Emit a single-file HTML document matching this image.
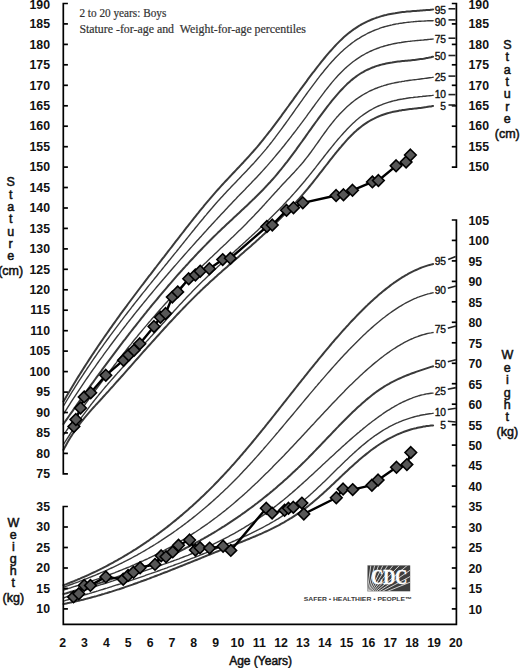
<!DOCTYPE html>
<html><head><meta charset="utf-8"><title>Growth chart</title>
<style>html,body{margin:0;padding:0;background:#fff;width:520px;height:668px;overflow:hidden}svg{display:block}</style>
</head><body>
<svg width="520" height="668" viewBox="0 0 520 668">
<rect width="520" height="668" fill="#fff"/>
<g fill="none" stroke="#3a3a3a" stroke-linejoin="round" stroke-linecap="round">
<path d="M63.5,401.4 L65.0,398.9 L66.5,396.3 L68.0,393.7 L69.5,391.2 L71.0,388.7 L72.5,386.2 L74.0,383.7 L75.5,381.3 L77.0,378.8 L78.5,376.4 L80.0,374.0 L81.5,371.6 L83.0,369.2 L84.5,366.9 L86.0,364.5 L87.5,362.2 L89.0,359.9 L90.5,357.6 L92.0,355.3 L93.5,353.1 L95.0,350.8 L96.5,348.6 L98.0,346.3 L99.5,344.1 L101.0,341.9 L102.5,339.7 L104.0,337.5 L105.5,335.4 L107.0,333.2 L108.5,331.1 L110.0,328.9 L111.5,326.8 L113.0,324.7 L114.5,322.6 L116.0,320.5 L117.5,318.4 L119.0,316.3 L120.5,314.2 L122.0,312.2 L123.5,310.1 L125.0,308.1 L126.5,306.1 L128.0,304.0 L129.5,302.0 L131.0,300.0 L132.5,298.0 L134.0,296.0 L135.5,294.0 L137.0,292.0 L138.5,290.0 L140.0,288.0 L141.5,286.0 L143.0,284.1 L144.5,282.1 L146.0,280.1 L147.5,278.2 L149.0,276.2 L150.5,274.3 L152.0,272.3 L153.5,270.4 L155.0,268.4 L156.5,266.5 L158.0,264.5 L159.5,262.6 L161.0,260.7 L162.5,258.7 L164.0,256.8 L165.5,254.8 L167.0,252.9 L168.5,250.9 L170.0,249.0 L171.5,247.1 L173.0,245.1 L174.5,243.2 L176.0,241.2 L177.5,239.3 L179.0,237.4 L180.5,235.4 L182.0,233.5 L183.5,231.6 L185.0,229.6 L186.5,227.7 L188.0,225.8 L189.5,223.9 L191.0,222.0 L192.5,220.1 L194.0,218.2 L195.5,216.3 L197.0,214.4 L198.5,212.6 L200.0,210.7 L201.5,208.9 L203.0,207.1 L204.5,205.2 L206.0,203.4 L207.5,201.6 L209.0,199.9 L210.5,198.1 L212.0,196.3 L213.5,194.6 L215.0,192.9 L216.5,191.2 L218.0,189.5 L219.5,187.8 L221.0,186.1 L222.5,184.5 L224.0,182.9 L225.5,181.3 L227.0,179.7 L228.5,178.1 L230.0,176.5 L231.5,174.9 L233.0,173.3 L234.5,171.7 L236.0,170.1 L237.5,168.5 L239.0,167.0 L240.5,165.4 L242.0,163.8 L243.5,162.2 L245.0,160.5 L246.5,158.9 L248.0,157.3 L249.5,155.6 L251.0,153.9 L252.5,152.3 L254.0,150.5 L255.5,148.8 L257.0,147.1 L258.5,145.3 L260.0,143.5 L261.5,141.7 L263.0,139.8 L264.5,137.9 L266.0,136.0 L267.5,134.1 L269.0,132.2 L270.5,130.3 L272.0,128.3 L273.5,126.3 L275.0,124.3 L276.5,122.3 L278.0,120.3 L279.5,118.3 L281.0,116.3 L282.5,114.2 L284.0,112.2 L285.5,110.1 L287.0,108.0 L288.5,106.0 L290.0,103.9 L291.5,101.8 L293.0,99.8 L294.5,97.7 L296.0,95.6 L297.5,93.5 L299.0,91.5 L300.5,89.4 L302.0,87.4 L303.5,85.3 L305.0,83.3 L306.5,81.3 L308.0,79.2 L309.5,77.2 L311.0,75.2 L312.5,73.2 L314.0,71.3 L315.5,69.3 L317.0,67.4 L318.5,65.5 L320.0,63.6 L321.5,61.7 L323.0,59.8 L324.5,58.0 L326.0,56.2 L327.5,54.4 L329.0,52.7 L330.5,51.0 L332.0,49.3 L333.5,47.6 L335.0,46.0 L336.5,44.4 L338.0,42.9 L339.5,41.4 L341.0,39.9 L342.5,38.5 L344.0,37.1 L345.5,35.8 L347.0,34.5 L348.5,33.3 L350.0,32.1 L351.5,31.0 L353.0,29.9 L354.5,28.8 L356.0,27.8 L357.5,26.8 L359.0,25.9 L360.5,25.0 L362.0,24.2 L363.5,23.4 L365.0,22.6 L366.5,21.8 L368.0,21.1 L369.5,20.5 L371.0,19.8 L372.5,19.2 L374.0,18.6 L375.5,18.1 L377.0,17.5 L378.5,17.1 L380.0,16.6 L381.5,16.1 L383.0,15.7 L384.5,15.3 L386.0,15.0 L387.5,14.6 L389.0,14.3 L390.5,14.0 L392.0,13.7 L393.5,13.4 L395.0,13.2 L396.5,12.9 L398.0,12.7 L399.5,12.5 L401.0,12.3 L402.5,12.1 L404.0,11.9 L405.5,11.8 L407.0,11.6 L408.5,11.5 L410.0,11.4 L411.5,11.2 L413.0,11.1 L414.5,11.0 L416.0,10.9 L417.5,10.8 L419.0,10.7 L420.5,10.5 L422.0,10.4 L423.5,10.3 L425.0,10.2 L426.5,10.1 L428.0,10.0 L429.5,9.9 L431.0,9.7 L432.5,9.6 L433.1,9.5" stroke-width="2.0"/>
<path d="M63.5,406.0 L65.0,403.5 L66.5,401.0 L68.0,398.5 L69.5,396.1 L71.0,393.6 L72.5,391.2 L74.0,388.8 L75.5,386.4 L77.0,384.1 L78.5,381.7 L80.0,379.4 L81.5,377.1 L83.0,374.8 L84.5,372.5 L86.0,370.3 L87.5,368.0 L89.0,365.8 L90.5,363.6 L92.0,361.3 L93.5,359.2 L95.0,357.0 L96.5,354.8 L98.0,352.7 L99.5,350.5 L101.0,348.4 L102.5,346.3 L104.0,344.2 L105.5,342.1 L107.0,340.0 L108.5,338.0 L110.0,335.9 L111.5,333.9 L113.0,331.8 L114.5,329.8 L116.0,327.8 L117.5,325.8 L119.0,323.8 L120.5,321.8 L122.0,319.9 L123.5,317.9 L125.0,315.9 L126.5,314.0 L128.0,312.0 L129.5,310.1 L131.0,308.2 L132.5,306.2 L134.0,304.3 L135.5,302.4 L137.0,300.5 L138.5,298.6 L140.0,296.7 L141.5,294.8 L143.0,292.9 L144.5,291.1 L146.0,289.2 L147.5,287.3 L149.0,285.4 L150.5,283.6 L152.0,281.7 L153.5,279.9 L155.0,278.0 L156.5,276.2 L158.0,274.3 L159.5,272.4 L161.0,270.6 L162.5,268.7 L164.0,266.9 L165.5,265.0 L167.0,263.2 L168.5,261.3 L170.0,259.5 L171.5,257.6 L173.0,255.8 L174.5,253.9 L176.0,252.1 L177.5,250.2 L179.0,248.4 L180.5,246.5 L182.0,244.6 L183.5,242.8 L185.0,240.9 L186.5,239.0 L188.0,237.1 L189.5,235.3 L191.0,233.4 L192.5,231.5 L194.0,229.7 L195.5,227.8 L197.0,226.0 L198.5,224.1 L200.0,222.3 L201.5,220.5 L203.0,218.7 L204.5,216.8 L206.0,215.1 L207.5,213.3 L209.0,211.5 L210.5,209.7 L212.0,208.0 L213.5,206.2 L215.0,204.5 L216.5,202.8 L218.0,201.1 L219.5,199.5 L221.0,197.8 L222.5,196.2 L224.0,194.5 L225.5,192.9 L227.0,191.3 L228.5,189.7 L230.0,188.2 L231.5,186.6 L233.0,185.0 L234.5,183.5 L236.0,181.9 L237.5,180.3 L239.0,178.8 L240.5,177.2 L242.0,175.6 L243.5,174.1 L245.0,172.5 L246.5,170.9 L248.0,169.3 L249.5,167.7 L251.0,166.1 L252.5,164.5 L254.0,162.9 L255.5,161.2 L257.0,159.5 L258.5,157.8 L260.0,156.1 L261.5,154.4 L263.0,152.6 L264.5,150.9 L266.0,149.1 L267.5,147.2 L269.0,145.4 L270.5,143.5 L272.0,141.6 L273.5,139.6 L275.0,137.7 L276.5,135.7 L278.0,133.7 L279.5,131.7 L281.0,129.7 L282.5,127.6 L284.0,125.5 L285.5,123.5 L287.0,121.4 L288.5,119.3 L290.0,117.2 L291.5,115.1 L293.0,113.0 L294.5,110.8 L296.0,108.7 L297.5,106.6 L299.0,104.5 L300.5,102.4 L302.0,100.3 L303.5,98.2 L305.0,96.1 L306.5,94.0 L308.0,91.9 L309.5,89.9 L311.0,87.8 L312.5,85.8 L314.0,83.8 L315.5,81.8 L317.0,79.8 L318.5,77.9 L320.0,75.9 L321.5,74.0 L323.0,72.2 L324.5,70.3 L326.0,68.5 L327.5,66.7 L329.0,64.9 L330.5,63.2 L332.0,61.5 L333.5,59.9 L335.0,58.3 L336.5,56.7 L338.0,55.2 L339.5,53.7 L341.0,52.3 L342.5,50.9 L344.0,49.5 L345.5,48.2 L347.0,47.0 L348.5,45.7 L350.0,44.6 L351.5,43.4 L353.0,42.3 L354.5,41.2 L356.0,40.2 L357.5,39.2 L359.0,38.3 L360.5,37.3 L362.0,36.4 L363.5,35.6 L365.0,34.8 L366.5,34.0 L368.0,33.2 L369.5,32.5 L371.0,31.8 L372.5,31.1 L374.0,30.5 L375.5,29.9 L377.0,29.3 L378.5,28.8 L380.0,28.2 L381.5,27.7 L383.0,27.2 L384.5,26.8 L386.0,26.4 L387.5,26.0 L389.0,25.6 L390.5,25.2 L392.0,24.9 L393.5,24.5 L395.0,24.2 L396.5,23.9 L398.0,23.7 L399.5,23.4 L401.0,23.2 L402.5,23.0 L404.0,22.7 L405.5,22.6 L407.0,22.4 L408.5,22.2 L410.0,22.1 L411.5,21.9 L413.0,21.8 L414.5,21.6 L416.0,21.5 L417.5,21.4 L419.0,21.3 L420.5,21.2 L422.0,21.1 L423.5,21.1 L425.0,21.0 L426.5,20.9 L428.0,20.8 L429.5,20.8 L431.0,20.7 L432.5,20.7 L433.1,20.6" stroke-width="1.4"/>
<path d="M63.5,414.0 L65.0,411.6 L66.5,409.3 L68.0,406.9 L69.5,404.6 L71.0,402.2 L72.5,399.9 L74.0,397.6 L75.5,395.4 L77.0,393.1 L78.5,390.8 L80.0,388.6 L81.5,386.3 L83.0,384.1 L84.5,381.9 L86.0,379.7 L87.5,377.5 L89.0,375.3 L90.5,373.2 L92.0,371.0 L93.5,368.9 L95.0,366.8 L96.5,364.6 L98.0,362.5 L99.5,360.4 L101.0,358.3 L102.5,356.3 L104.0,354.2 L105.5,352.1 L107.0,350.1 L108.5,348.1 L110.0,346.0 L111.5,344.0 L113.0,342.0 L114.5,340.0 L116.0,338.0 L117.5,336.0 L119.0,334.1 L120.5,332.1 L122.0,330.1 L123.5,328.2 L125.0,326.3 L126.5,324.3 L128.0,322.4 L129.5,320.5 L131.0,318.6 L132.5,316.7 L134.0,314.8 L135.5,312.9 L137.0,311.0 L138.5,309.2 L140.0,307.3 L141.5,305.5 L143.0,303.6 L144.5,301.8 L146.0,300.0 L147.5,298.1 L149.0,296.3 L150.5,294.5 L152.0,292.7 L153.5,290.9 L155.0,289.1 L156.5,287.3 L158.0,285.5 L159.5,283.8 L161.0,282.0 L162.5,280.2 L164.0,278.5 L165.5,276.7 L167.0,275.0 L168.5,273.2 L170.0,271.5 L171.5,269.7 L173.0,268.0 L174.5,266.3 L176.0,264.6 L177.5,262.9 L179.0,261.1 L180.5,259.4 L182.0,257.7 L183.5,256.0 L185.0,254.3 L186.5,252.6 L188.0,250.9 L189.5,249.2 L191.0,247.6 L192.5,245.9 L194.0,244.2 L195.5,242.5 L197.0,240.8 L198.5,239.2 L200.0,237.5 L201.5,235.9 L203.0,234.2 L204.5,232.5 L206.0,230.9 L207.5,229.2 L209.0,227.6 L210.5,226.0 L212.0,224.3 L213.5,222.7 L215.0,221.1 L216.5,219.4 L218.0,217.8 L219.5,216.2 L221.0,214.6 L222.5,213.0 L224.0,211.4 L225.5,209.8 L227.0,208.2 L228.5,206.6 L230.0,205.0 L231.5,203.4 L233.0,201.8 L234.5,200.2 L236.0,198.7 L237.5,197.1 L239.0,195.6 L240.5,194.0 L242.0,192.4 L243.5,190.9 L245.0,189.4 L246.5,187.8 L248.0,186.3 L249.5,184.7 L251.0,183.2 L252.5,181.6 L254.0,180.1 L255.5,178.5 L257.0,176.9 L258.5,175.3 L260.0,173.7 L261.5,172.1 L263.0,170.4 L264.5,168.7 L266.0,167.1 L267.5,165.4 L269.0,163.6 L270.5,161.9 L272.0,160.2 L273.5,158.4 L275.0,156.6 L276.5,154.8 L278.0,153.0 L279.5,151.2 L281.0,149.4 L282.5,147.5 L284.0,145.7 L285.5,143.8 L287.0,141.9 L288.5,140.0 L290.0,138.1 L291.5,136.2 L293.0,134.2 L294.5,132.3 L296.0,130.3 L297.5,128.3 L299.0,126.4 L300.5,124.4 L302.0,122.4 L303.5,120.3 L305.0,118.3 L306.5,116.3 L308.0,114.2 L309.5,112.2 L311.0,110.1 L312.5,108.0 L314.0,106.0 L315.5,103.9 L317.0,101.9 L318.5,99.8 L320.0,97.8 L321.5,95.8 L323.0,93.8 L324.5,91.8 L326.0,89.9 L327.5,88.0 L329.0,86.1 L330.5,84.2 L332.0,82.4 L333.5,80.6 L335.0,78.9 L336.5,77.2 L338.0,75.6 L339.5,74.0 L341.0,72.4 L342.5,70.9 L344.0,69.5 L345.5,68.1 L347.0,66.8 L348.5,65.5 L350.0,64.2 L351.5,63.0 L353.0,61.8 L354.5,60.7 L356.0,59.6 L357.5,58.6 L359.0,57.6 L360.5,56.7 L362.0,55.7 L363.5,54.9 L365.0,54.0 L366.5,53.2 L368.0,52.5 L369.5,51.7 L371.0,51.0 L372.5,50.3 L374.0,49.7 L375.5,49.1 L377.0,48.5 L378.5,48.0 L380.0,47.4 L381.5,46.9 L383.0,46.5 L384.5,46.0 L386.0,45.6 L387.5,45.2 L389.0,44.8 L390.5,44.5 L392.0,44.1 L393.5,43.8 L395.0,43.5 L396.5,43.2 L398.0,42.9 L399.5,42.7 L401.0,42.5 L402.5,42.2 L404.0,42.0 L405.5,41.8 L407.0,41.6 L408.5,41.4 L410.0,41.3 L411.5,41.1 L413.0,40.9 L414.5,40.8 L416.0,40.6 L417.5,40.5 L419.0,40.4 L420.5,40.2 L422.0,40.1 L423.5,40.0 L425.0,39.8 L426.5,39.7 L428.0,39.5 L429.5,39.4 L431.0,39.2 L432.5,39.1 L433.1,39.0" stroke-width="1.4"/>
<path d="M63.5,424.0 L65.0,421.8 L66.5,419.6 L68.0,417.5 L69.5,415.3 L71.0,413.2 L72.5,411.1 L74.0,408.9 L75.5,406.8 L77.0,404.7 L78.5,402.5 L80.0,400.4 L81.5,398.3 L83.0,396.2 L84.5,394.1 L86.0,392.0 L87.5,389.9 L89.0,387.8 L90.5,385.7 L92.0,383.6 L93.5,381.6 L95.0,379.5 L96.5,377.4 L98.0,375.4 L99.5,373.3 L101.0,371.3 L102.5,369.2 L104.0,367.2 L105.5,365.2 L107.0,363.1 L108.5,361.1 L110.0,359.1 L111.5,357.1 L113.0,355.1 L114.5,353.1 L116.0,351.1 L117.5,349.1 L119.0,347.1 L120.5,345.1 L122.0,343.2 L123.5,341.2 L125.0,339.3 L126.5,337.3 L128.0,335.4 L129.5,333.4 L131.0,331.5 L132.5,329.6 L134.0,327.7 L135.5,325.8 L137.0,323.9 L138.5,322.0 L140.0,320.1 L141.5,318.2 L143.0,316.3 L144.5,314.4 L146.0,312.6 L147.5,310.7 L149.0,308.9 L150.5,307.0 L152.0,305.2 L153.5,303.4 L155.0,301.6 L156.5,299.8 L158.0,298.0 L159.5,296.2 L161.0,294.4 L162.5,292.6 L164.0,290.8 L165.5,289.1 L167.0,287.3 L168.5,285.5 L170.0,283.8 L171.5,282.1 L173.0,280.3 L174.5,278.6 L176.0,276.9 L177.5,275.2 L179.0,273.5 L180.5,271.8 L182.0,270.2 L183.5,268.5 L185.0,266.9 L186.5,265.2 L188.0,263.6 L189.5,261.9 L191.0,260.3 L192.5,258.7 L194.0,257.1 L195.5,255.5 L197.0,253.9 L198.5,252.3 L200.0,250.8 L201.5,249.2 L203.0,247.6 L204.5,246.1 L206.0,244.6 L207.5,243.0 L209.0,241.5 L210.5,240.0 L212.0,238.5 L213.5,237.0 L215.0,235.6 L216.5,234.1 L218.0,232.6 L219.5,231.2 L221.0,229.8 L222.5,228.3 L224.0,226.9 L225.5,225.5 L227.0,224.1 L228.5,222.7 L230.0,221.3 L231.5,219.9 L233.0,218.5 L234.5,217.1 L236.0,215.7 L237.5,214.3 L239.0,212.9 L240.5,211.5 L242.0,210.1 L243.5,208.7 L245.0,207.3 L246.5,205.9 L248.0,204.5 L249.5,203.0 L251.0,201.6 L252.5,200.1 L254.0,198.7 L255.5,197.2 L257.0,195.7 L258.5,194.2 L260.0,192.7 L261.5,191.2 L263.0,189.7 L264.5,188.1 L266.0,186.5 L267.5,184.9 L269.0,183.3 L270.5,181.7 L272.0,180.0 L273.5,178.3 L275.0,176.6 L276.5,174.8 L278.0,173.0 L279.5,171.2 L281.0,169.4 L282.5,167.5 L284.0,165.6 L285.5,163.7 L287.0,161.8 L288.5,159.8 L290.0,157.8 L291.5,155.8 L293.0,153.8 L294.5,151.8 L296.0,149.8 L297.5,147.7 L299.0,145.6 L300.5,143.5 L302.0,141.5 L303.5,139.4 L305.0,137.3 L306.5,135.1 L308.0,133.0 L309.5,130.9 L311.0,128.8 L312.5,126.7 L314.0,124.6 L315.5,122.5 L317.0,120.5 L318.5,118.4 L320.0,116.3 L321.5,114.3 L323.0,112.3 L324.5,110.3 L326.0,108.3 L327.5,106.4 L329.0,104.5 L330.5,102.6 L332.0,100.7 L333.5,98.9 L335.0,97.1 L336.5,95.3 L338.0,93.6 L339.5,91.9 L341.0,90.3 L342.5,88.7 L344.0,87.1 L345.5,85.6 L347.0,84.1 L348.5,82.7 L350.0,81.4 L351.5,80.1 L353.0,78.9 L354.5,77.7 L356.0,76.6 L357.5,75.5 L359.0,74.5 L360.5,73.5 L362.0,72.6 L363.5,71.8 L365.0,70.9 L366.5,70.2 L368.0,69.5 L369.5,68.8 L371.0,68.1 L372.5,67.5 L374.0,67.0 L375.5,66.4 L377.0,65.9 L378.5,65.5 L380.0,65.0 L381.5,64.6 L383.0,64.2 L384.5,63.9 L386.0,63.6 L387.5,63.3 L389.0,63.0 L390.5,62.7 L392.0,62.5 L393.5,62.2 L395.0,62.0 L396.5,61.8 L398.0,61.6 L399.5,61.5 L401.0,61.3 L402.5,61.1 L404.0,61.0 L405.5,60.8 L407.0,60.7 L408.5,60.5 L410.0,60.4 L411.5,60.2 L413.0,60.0 L414.5,59.9 L416.0,59.7 L417.5,59.5 L419.0,59.3 L420.5,59.1 L422.0,58.9 L423.5,58.7 L425.0,58.4 L426.5,58.1 L428.0,57.9 L429.5,57.5 L431.0,57.2 L432.5,56.8 L433.1,56.7" stroke-width="2.0"/>
<path d="M63.5,434.9 L65.0,432.8 L66.5,430.7 L68.0,428.5 L69.5,426.4 L71.0,424.2 L72.5,422.1 L74.0,420.0 L75.5,417.9 L77.0,415.8 L78.5,413.7 L80.0,411.6 L81.5,409.5 L83.0,407.4 L84.5,405.3 L86.0,403.2 L87.5,401.2 L89.0,399.1 L90.5,397.0 L92.0,395.0 L93.5,392.9 L95.0,390.9 L96.5,388.9 L98.0,386.8 L99.5,384.8 L101.0,382.8 L102.5,380.8 L104.0,378.8 L105.5,376.8 L107.0,374.8 L108.5,372.9 L110.0,370.9 L111.5,368.9 L113.0,367.0 L114.5,365.0 L116.0,363.1 L117.5,361.1 L119.0,359.2 L120.5,357.3 L122.0,355.4 L123.5,353.5 L125.0,351.6 L126.5,349.7 L128.0,347.8 L129.5,345.9 L131.0,344.1 L132.5,342.2 L134.0,340.3 L135.5,338.5 L137.0,336.7 L138.5,334.8 L140.0,333.0 L141.5,331.2 L143.0,329.4 L144.5,327.6 L146.0,325.9 L147.5,324.1 L149.0,322.3 L150.5,320.6 L152.0,318.8 L153.5,317.1 L155.0,315.4 L156.5,313.6 L158.0,311.9 L159.5,310.2 L161.0,308.6 L162.5,306.9 L164.0,305.2 L165.5,303.5 L167.0,301.9 L168.5,300.3 L170.0,298.6 L171.5,297.0 L173.0,295.4 L174.5,293.8 L176.0,292.2 L177.5,290.6 L179.0,289.1 L180.5,287.5 L182.0,286.0 L183.5,284.4 L185.0,282.9 L186.5,281.4 L188.0,279.9 L189.5,278.4 L191.0,276.9 L192.5,275.4 L194.0,273.9 L195.5,272.5 L197.0,271.0 L198.5,269.6 L200.0,268.1 L201.5,266.7 L203.0,265.2 L204.5,263.8 L206.0,262.4 L207.5,260.9 L209.0,259.5 L210.5,258.1 L212.0,256.7 L213.5,255.2 L215.0,253.8 L216.5,252.4 L218.0,251.0 L219.5,249.6 L221.0,248.1 L222.5,246.7 L224.0,245.3 L225.5,243.9 L227.0,242.4 L228.5,241.0 L230.0,239.6 L231.5,238.1 L233.0,236.7 L234.5,235.2 L236.0,233.8 L237.5,232.3 L239.0,230.8 L240.5,229.4 L242.0,227.9 L243.5,226.4 L245.0,224.9 L246.5,223.4 L248.0,221.8 L249.5,220.3 L251.0,218.8 L252.5,217.2 L254.0,215.7 L255.5,214.1 L257.0,212.5 L258.5,210.9 L260.0,209.3 L261.5,207.7 L263.0,206.0 L264.5,204.4 L266.0,202.7 L267.5,201.1 L269.0,199.4 L270.5,197.8 L272.0,196.1 L273.5,194.5 L275.0,192.8 L276.5,191.2 L278.0,189.5 L279.5,187.9 L281.0,186.2 L282.5,184.6 L284.0,183.0 L285.5,181.4 L287.0,179.8 L288.5,178.3 L290.0,176.7 L291.5,175.1 L293.0,173.5 L294.5,171.9 L296.0,170.2 L297.5,168.6 L299.0,166.9 L300.5,165.2 L302.0,163.5 L303.5,161.7 L305.0,159.8 L306.5,157.9 L308.0,156.0 L309.5,154.0 L311.0,152.0 L312.5,149.9 L314.0,147.8 L315.5,145.7 L317.0,143.6 L318.5,141.5 L320.0,139.3 L321.5,137.2 L323.0,135.1 L324.5,133.0 L326.0,131.0 L327.5,128.9 L329.0,126.9 L330.5,125.0 L332.0,123.1 L333.5,121.2 L335.0,119.4 L336.5,117.6 L338.0,116.0 L339.5,114.3 L341.0,112.7 L342.5,111.2 L344.0,109.7 L345.5,108.2 L347.0,106.8 L348.5,105.5 L350.0,104.2 L351.5,102.9 L353.0,101.7 L354.5,100.5 L356.0,99.4 L357.5,98.4 L359.0,97.3 L360.5,96.3 L362.0,95.4 L363.5,94.5 L365.0,93.6 L366.5,92.8 L368.0,92.0 L369.5,91.2 L371.0,90.5 L372.5,89.8 L374.0,89.2 L375.5,88.5 L377.0,88.0 L378.5,87.4 L380.0,86.8 L381.5,86.3 L383.0,85.9 L384.5,85.4 L386.0,85.0 L387.5,84.5 L389.0,84.1 L390.5,83.8 L392.0,83.4 L393.5,83.1 L395.0,82.8 L396.5,82.5 L398.0,82.2 L399.5,81.9 L401.0,81.7 L402.5,81.4 L404.0,81.2 L405.5,80.9 L407.0,80.7 L408.5,80.5 L410.0,80.3 L411.5,80.1 L413.0,79.9 L414.5,79.7 L416.0,79.6 L417.5,79.4 L419.0,79.2 L420.5,79.0 L422.0,78.8 L423.5,78.6 L425.0,78.4 L426.5,78.2 L428.0,78.0 L429.5,77.8 L431.0,77.6 L432.5,77.4 L433.1,77.3" stroke-width="1.4"/>
<path d="M63.5,444.5 L65.0,442.0 L66.5,439.6 L68.0,437.3 L69.5,435.0 L71.0,432.7 L72.5,430.4 L74.0,428.2 L75.5,426.0 L77.0,423.8 L78.5,421.6 L80.0,419.5 L81.5,417.4 L83.0,415.3 L84.5,413.3 L86.0,411.3 L87.5,409.3 L89.0,407.3 L90.5,405.3 L92.0,403.4 L93.5,401.5 L95.0,399.6 L96.5,397.7 L98.0,395.9 L99.5,394.0 L101.0,392.2 L102.5,390.4 L104.0,388.6 L105.5,386.8 L107.0,385.1 L108.5,383.3 L110.0,381.6 L111.5,379.9 L113.0,378.2 L114.5,376.5 L116.0,374.8 L117.5,373.1 L119.0,371.5 L120.5,369.8 L122.0,368.1 L123.5,366.5 L125.0,364.9 L126.5,363.2 L128.0,361.6 L129.5,360.0 L131.0,358.3 L132.5,356.7 L134.0,355.1 L135.5,353.5 L137.0,351.8 L138.5,350.2 L140.0,348.6 L141.5,347.0 L143.0,345.3 L144.5,343.7 L146.0,342.1 L147.5,340.4 L149.0,338.8 L150.5,337.1 L152.0,335.5 L153.5,333.8 L155.0,332.2 L156.5,330.5 L158.0,328.8 L159.5,327.2 L161.0,325.5 L162.5,323.8 L164.0,322.2 L165.5,320.5 L167.0,318.8 L168.5,317.2 L170.0,315.5 L171.5,313.8 L173.0,312.2 L174.5,310.5 L176.0,308.9 L177.5,307.3 L179.0,305.6 L180.5,304.0 L182.0,302.4 L183.5,300.8 L185.0,299.2 L186.5,297.6 L188.0,296.0 L189.5,294.4 L191.0,292.9 L192.5,291.3 L194.0,289.8 L195.5,288.3 L197.0,286.8 L198.5,285.3 L200.0,283.8 L201.5,282.3 L203.0,280.8 L204.5,279.4 L206.0,277.9 L207.5,276.5 L209.0,275.0 L210.5,273.6 L212.0,272.2 L213.5,270.8 L215.0,269.4 L216.5,268.0 L218.0,266.6 L219.5,265.2 L221.0,263.8 L222.5,262.4 L224.0,261.0 L225.5,259.7 L227.0,258.3 L228.5,256.9 L230.0,255.6 L231.5,254.2 L233.0,252.9 L234.5,251.5 L236.0,250.1 L237.5,248.8 L239.0,247.4 L240.5,246.1 L242.0,244.7 L243.5,243.3 L245.0,242.0 L246.5,240.6 L248.0,239.2 L249.5,237.8 L251.0,236.5 L252.5,235.1 L254.0,233.7 L255.5,232.3 L257.0,230.9 L258.5,229.5 L260.0,228.1 L261.5,226.7 L263.0,225.3 L264.5,223.8 L266.0,222.4 L267.5,220.9 L269.0,219.5 L270.5,218.0 L272.0,216.5 L273.5,215.0 L275.0,213.5 L276.5,212.0 L278.0,210.5 L279.5,209.0 L281.0,207.4 L282.5,205.9 L284.0,204.3 L285.5,202.7 L287.0,201.1 L288.5,199.5 L290.0,197.9 L291.5,196.2 L293.0,194.6 L294.5,192.9 L296.0,191.2 L297.5,189.5 L299.0,187.8 L300.5,186.0 L302.0,184.2 L303.5,182.5 L305.0,180.7 L306.5,178.8 L308.0,177.0 L309.5,175.1 L311.0,173.3 L312.5,171.4 L314.0,169.5 L315.5,167.6 L317.0,165.6 L318.5,163.7 L320.0,161.8 L321.5,159.9 L323.0,158.0 L324.5,156.0 L326.0,154.1 L327.5,152.2 L329.0,150.3 L330.5,148.5 L332.0,146.6 L333.5,144.8 L335.0,142.9 L336.5,141.1 L338.0,139.3 L339.5,137.6 L341.0,135.9 L342.5,134.2 L344.0,132.5 L345.5,130.9 L347.0,129.3 L348.5,127.7 L350.0,126.2 L351.5,124.7 L353.0,123.3 L354.5,121.9 L356.0,120.5 L357.5,119.3 L359.0,118.0 L360.5,116.8 L362.0,115.7 L363.5,114.6 L365.0,113.6 L366.5,112.6 L368.0,111.6 L369.5,110.7 L371.0,109.8 L372.5,109.0 L374.0,108.2 L375.5,107.4 L377.0,106.7 L378.5,106.0 L380.0,105.4 L381.5,104.8 L383.0,104.2 L384.5,103.6 L386.0,103.1 L387.5,102.6 L389.0,102.1 L390.5,101.7 L392.0,101.3 L393.5,100.9 L395.0,100.5 L396.5,100.2 L398.0,99.8 L399.5,99.5 L401.0,99.2 L402.5,99.0 L404.0,98.7 L405.5,98.5 L407.0,98.2 L408.5,98.0 L410.0,97.8 L411.5,97.6 L413.0,97.5 L414.5,97.3 L416.0,97.1 L417.5,97.0 L419.0,96.8 L420.5,96.6 L422.0,96.5 L423.5,96.3 L425.0,96.2 L426.5,96.0 L428.0,95.9 L429.5,95.7 L431.0,95.6 L432.5,95.4 L433.1,95.3" stroke-width="1.4"/>
<path d="M63.5,449.8 L65.0,446.9 L66.5,444.2 L68.0,441.6 L69.5,439.1 L71.0,436.6 L72.5,434.3 L74.0,432.0 L75.5,429.8 L77.0,427.7 L78.5,425.6 L80.0,423.6 L81.5,421.7 L83.0,419.8 L84.5,417.9 L86.0,416.1 L87.5,414.3 L89.0,412.6 L90.5,410.9 L92.0,409.2 L93.5,407.5 L95.0,405.9 L96.5,404.2 L98.0,402.6 L99.5,401.0 L101.0,399.3 L102.5,397.7 L104.0,396.0 L105.5,394.4 L107.0,392.7 L108.5,391.1 L110.0,389.4 L111.5,387.7 L113.0,386.1 L114.5,384.4 L116.0,382.7 L117.5,381.0 L119.0,379.3 L120.5,377.7 L122.0,376.0 L123.5,374.3 L125.0,372.6 L126.5,370.9 L128.0,369.2 L129.5,367.5 L131.0,365.8 L132.5,364.1 L134.0,362.4 L135.5,360.7 L137.0,359.0 L138.5,357.3 L140.0,355.6 L141.5,353.9 L143.0,352.2 L144.5,350.5 L146.0,348.9 L147.5,347.2 L149.0,345.5 L150.5,343.8 L152.0,342.1 L153.5,340.5 L155.0,338.8 L156.5,337.1 L158.0,335.5 L159.5,333.8 L161.0,332.1 L162.5,330.5 L164.0,328.8 L165.5,327.2 L167.0,325.6 L168.5,323.9 L170.0,322.3 L171.5,320.7 L173.0,319.1 L174.5,317.5 L176.0,315.9 L177.5,314.3 L179.0,312.7 L180.5,311.1 L182.0,309.6 L183.5,308.0 L185.0,306.5 L186.5,304.9 L188.0,303.4 L189.5,301.9 L191.0,300.4 L192.5,298.9 L194.0,297.4 L195.5,295.9 L197.0,294.4 L198.5,292.9 L200.0,291.5 L201.5,290.1 L203.0,288.6 L204.5,287.2 L206.0,285.8 L207.5,284.4 L209.0,283.0 L210.5,281.6 L212.0,280.3 L213.5,278.9 L215.0,277.5 L216.5,276.2 L218.0,274.8 L219.5,273.5 L221.0,272.2 L222.5,270.8 L224.0,269.5 L225.5,268.2 L227.0,266.9 L228.5,265.5 L230.0,264.2 L231.5,262.9 L233.0,261.6 L234.5,260.3 L236.0,259.0 L237.5,257.7 L239.0,256.4 L240.5,255.1 L242.0,253.8 L243.5,252.5 L245.0,251.1 L246.5,249.8 L248.0,248.5 L249.5,247.2 L251.0,245.9 L252.5,244.5 L254.0,243.2 L255.5,241.9 L257.0,240.5 L258.5,239.2 L260.0,237.8 L261.5,236.5 L263.0,235.1 L264.5,233.7 L266.0,232.3 L267.5,230.9 L269.0,229.5 L270.5,228.1 L272.0,226.7 L273.5,225.3 L275.0,223.8 L276.5,222.4 L278.0,220.9 L279.5,219.4 L281.0,217.9 L282.5,216.4 L284.0,214.9 L285.5,213.4 L287.0,211.8 L288.5,210.2 L290.0,208.7 L291.5,207.1 L293.0,205.5 L294.5,203.8 L296.0,202.2 L297.5,200.5 L299.0,198.8 L300.5,197.1 L302.0,195.4 L303.5,193.7 L305.0,191.9 L306.5,190.1 L308.0,188.3 L309.5,186.5 L311.0,184.7 L312.5,182.8 L314.0,180.9 L315.5,179.0 L317.0,177.1 L318.5,175.2 L320.0,173.2 L321.5,171.3 L323.0,169.4 L324.5,167.4 L326.0,165.5 L327.5,163.6 L329.0,161.6 L330.5,159.7 L332.0,157.8 L333.5,155.9 L335.0,154.0 L336.5,152.2 L338.0,150.3 L339.5,148.5 L341.0,146.8 L342.5,145.0 L344.0,143.3 L345.5,141.6 L347.0,139.9 L348.5,138.3 L350.0,136.8 L351.5,135.2 L353.0,133.8 L354.5,132.3 L356.0,131.0 L357.5,129.6 L359.0,128.4 L360.5,127.2 L362.0,126.0 L363.5,124.9 L365.0,123.9 L366.5,122.9 L368.0,121.9 L369.5,121.0 L371.0,120.1 L372.5,119.3 L374.0,118.6 L375.5,117.8 L377.0,117.1 L378.5,116.5 L380.0,115.9 L381.5,115.3 L383.0,114.8 L384.5,114.3 L386.0,113.8 L387.5,113.3 L389.0,112.9 L390.5,112.5 L392.0,112.1 L393.5,111.8 L395.0,111.5 L396.5,111.2 L398.0,110.9 L399.5,110.6 L401.0,110.4 L402.5,110.1 L404.0,109.9 L405.5,109.7 L407.0,109.5 L408.5,109.3 L410.0,109.1 L411.5,108.9 L413.0,108.7 L414.5,108.6 L416.0,108.4 L417.5,108.2 L419.0,108.0 L420.5,107.9 L422.0,107.7 L423.5,107.5 L425.0,107.3 L426.5,107.1 L428.0,106.8 L429.5,106.6 L431.0,106.4 L432.5,106.1 L433.1,106.0" stroke-width="2.0"/>
<path d="M63.5,585.2 L65.0,584.6 L66.5,584.1 L68.0,583.5 L69.5,582.9 L71.0,582.3 L72.5,581.7 L74.0,581.1 L75.5,580.5 L77.0,579.9 L78.5,579.2 L80.0,578.6 L81.5,577.9 L83.0,577.3 L84.5,576.6 L86.0,576.0 L87.5,575.3 L89.0,574.6 L90.5,573.9 L92.0,573.2 L93.5,572.5 L95.0,571.8 L96.5,571.1 L98.0,570.3 L99.5,569.6 L101.0,568.8 L102.5,568.1 L104.0,567.3 L105.5,566.6 L107.0,565.8 L108.5,565.0 L110.0,564.2 L111.5,563.4 L113.0,562.6 L114.5,561.7 L116.0,560.9 L117.5,560.1 L119.0,559.2 L120.5,558.4 L122.0,557.5 L123.5,556.6 L125.0,555.7 L126.5,554.8 L128.0,553.9 L129.5,553.0 L131.0,552.1 L132.5,551.2 L134.0,550.2 L135.5,549.3 L137.0,548.3 L138.5,547.3 L140.0,546.4 L141.5,545.4 L143.0,544.4 L144.5,543.4 L146.0,542.4 L147.5,541.3 L149.0,540.3 L150.5,539.2 L152.0,538.2 L153.5,537.1 L155.0,536.0 L156.5,535.0 L158.0,533.9 L159.5,532.7 L161.0,531.6 L162.5,530.5 L164.0,529.4 L165.5,528.2 L167.0,527.1 L168.5,525.9 L170.0,524.7 L171.5,523.5 L173.0,522.3 L174.5,521.1 L176.0,519.9 L177.5,518.6 L179.0,517.4 L180.5,516.1 L182.0,514.9 L183.5,513.6 L185.0,512.3 L186.5,511.0 L188.0,509.7 L189.5,508.3 L191.0,507.0 L192.5,505.7 L194.0,504.3 L195.5,502.9 L197.0,501.6 L198.5,500.2 L200.0,498.8 L201.5,497.3 L203.0,495.9 L204.5,494.5 L206.0,493.0 L207.5,491.6 L209.0,490.1 L210.5,488.6 L212.0,487.1 L213.5,485.6 L215.0,484.0 L216.5,482.5 L218.0,481.0 L219.5,479.4 L221.0,477.8 L222.5,476.2 L224.0,474.6 L225.5,473.0 L227.0,471.4 L228.5,469.8 L230.0,468.1 L231.5,466.4 L233.0,464.8 L234.5,463.1 L236.0,461.4 L237.5,459.7 L239.0,458.0 L240.5,456.2 L242.0,454.5 L243.5,452.7 L245.0,451.0 L246.5,449.2 L248.0,447.4 L249.5,445.6 L251.0,443.8 L252.5,442.0 L254.0,440.2 L255.5,438.4 L257.0,436.5 L258.5,434.7 L260.0,432.8 L261.5,431.0 L263.0,429.1 L264.5,427.3 L266.0,425.4 L267.5,423.5 L269.0,421.7 L270.5,419.8 L272.0,417.9 L273.5,416.0 L275.0,414.1 L276.5,412.2 L278.0,410.3 L279.5,408.4 L281.0,406.5 L282.5,404.6 L284.0,402.7 L285.5,400.8 L287.0,398.9 L288.5,397.0 L290.0,395.1 L291.5,393.2 L293.0,391.3 L294.5,389.4 L296.0,387.5 L297.5,385.6 L299.0,383.7 L300.5,381.8 L302.0,379.9 L303.5,378.1 L305.0,376.2 L306.5,374.3 L308.0,372.4 L309.5,370.5 L311.0,368.7 L312.5,366.8 L314.0,365.0 L315.5,363.1 L317.0,361.3 L318.5,359.4 L320.0,357.6 L321.5,355.8 L323.0,354.0 L324.5,352.2 L326.0,350.4 L327.5,348.6 L329.0,346.8 L330.5,345.0 L332.0,343.2 L333.5,341.5 L335.0,339.7 L336.5,338.0 L338.0,336.3 L339.5,334.6 L341.0,332.9 L342.5,331.2 L344.0,329.5 L345.5,327.9 L347.0,326.2 L348.5,324.6 L350.0,322.9 L351.5,321.3 L353.0,319.7 L354.5,318.2 L356.0,316.6 L357.5,315.0 L359.0,313.5 L360.5,312.0 L362.0,310.5 L363.5,309.0 L365.0,307.5 L366.5,306.1 L368.0,304.6 L369.5,303.2 L371.0,301.8 L372.5,300.4 L374.0,299.1 L375.5,297.7 L377.0,296.4 L378.5,295.1 L380.0,293.8 L381.5,292.6 L383.0,291.3 L384.5,290.1 L386.0,288.9 L387.5,287.7 L389.0,286.6 L390.5,285.4 L392.0,284.3 L393.5,283.2 L395.0,282.2 L396.5,281.1 L398.0,280.1 L399.5,279.1 L401.0,278.2 L402.5,277.2 L404.0,276.3 L405.5,275.4 L407.0,274.6 L408.5,273.7 L410.0,272.9 L411.5,272.1 L413.0,271.4 L414.5,270.7 L416.0,270.0 L417.5,269.3 L419.0,268.6 L420.5,268.0 L422.0,267.4 L423.5,266.9 L425.0,266.4 L426.5,265.9 L428.0,265.4 L429.5,265.0 L431.0,264.6 L432.5,264.2 L433.1,264.1" stroke-width="2.0"/>
<path d="M63.5,587.1 L65.0,586.6 L66.5,586.1 L68.0,585.6 L69.5,585.0 L71.0,584.5 L72.5,584.0 L74.0,583.4 L75.5,582.9 L77.0,582.3 L78.5,581.8 L80.0,581.2 L81.5,580.7 L83.0,580.1 L84.5,579.5 L86.0,578.9 L87.5,578.3 L89.0,577.7 L90.5,577.1 L92.0,576.5 L93.5,575.9 L95.0,575.3 L96.5,574.7 L98.0,574.0 L99.5,573.4 L101.0,572.7 L102.5,572.1 L104.0,571.4 L105.5,570.8 L107.0,570.1 L108.5,569.4 L110.0,568.7 L111.5,568.0 L113.0,567.3 L114.5,566.6 L116.0,565.9 L117.5,565.2 L119.0,564.4 L120.5,563.7 L122.0,563.0 L123.5,562.2 L125.0,561.4 L126.5,560.7 L128.0,559.9 L129.5,559.1 L131.0,558.3 L132.5,557.5 L134.0,556.7 L135.5,555.9 L137.0,555.1 L138.5,554.2 L140.0,553.4 L141.5,552.5 L143.0,551.7 L144.5,550.8 L146.0,549.9 L147.5,549.0 L149.0,548.2 L150.5,547.2 L152.0,546.3 L153.5,545.4 L155.0,544.5 L156.5,543.5 L158.0,542.6 L159.5,541.6 L161.0,540.7 L162.5,539.7 L164.0,538.7 L165.5,537.7 L167.0,536.7 L168.5,535.7 L170.0,534.7 L171.5,533.6 L173.0,532.6 L174.5,531.5 L176.0,530.5 L177.5,529.4 L179.0,528.3 L180.5,527.2 L182.0,526.1 L183.5,525.0 L185.0,523.9 L186.5,522.8 L188.0,521.6 L189.5,520.4 L191.0,519.3 L192.5,518.1 L194.0,516.9 L195.5,515.7 L197.0,514.5 L198.5,513.3 L200.0,512.0 L201.5,510.8 L203.0,509.5 L204.5,508.3 L206.0,507.0 L207.5,505.7 L209.0,504.4 L210.5,503.1 L212.0,501.8 L213.5,500.4 L215.0,499.1 L216.5,497.7 L218.0,496.4 L219.5,495.0 L221.0,493.6 L222.5,492.2 L224.0,490.7 L225.5,489.3 L227.0,487.9 L228.5,486.4 L230.0,484.9 L231.5,483.5 L233.0,482.0 L234.5,480.5 L236.0,478.9 L237.5,477.4 L239.0,475.9 L240.5,474.3 L242.0,472.7 L243.5,471.1 L245.0,469.5 L246.5,467.9 L248.0,466.3 L249.5,464.7 L251.0,463.0 L252.5,461.4 L254.0,459.7 L255.5,458.1 L257.0,456.4 L258.5,454.7 L260.0,453.0 L261.5,451.3 L263.0,449.6 L264.5,447.8 L266.0,446.1 L267.5,444.4 L269.0,442.6 L270.5,440.9 L272.0,439.1 L273.5,437.4 L275.0,435.6 L276.5,433.8 L278.0,432.1 L279.5,430.3 L281.0,428.5 L282.5,426.7 L284.0,424.9 L285.5,423.1 L287.0,421.3 L288.5,419.5 L290.0,417.8 L291.5,416.0 L293.0,414.2 L294.5,412.4 L296.0,410.6 L297.5,408.8 L299.0,407.0 L300.5,405.2 L302.0,403.4 L303.5,401.6 L305.0,399.8 L306.5,398.0 L308.0,396.2 L309.5,394.4 L311.0,392.6 L312.5,390.9 L314.0,389.1 L315.5,387.3 L317.0,385.6 L318.5,383.8 L320.0,382.1 L321.5,380.3 L323.0,378.6 L324.5,376.9 L326.0,375.1 L327.5,373.4 L329.0,371.7 L330.5,370.0 L332.0,368.3 L333.5,366.6 L335.0,364.9 L336.5,363.3 L338.0,361.6 L339.5,360.0 L341.0,358.3 L342.5,356.7 L344.0,355.1 L345.5,353.5 L347.0,351.9 L348.5,350.3 L350.0,348.8 L351.5,347.2 L353.0,345.7 L354.5,344.2 L356.0,342.7 L357.5,341.2 L359.0,339.7 L360.5,338.2 L362.0,336.8 L363.5,335.3 L365.0,333.9 L366.5,332.5 L368.0,331.1 L369.5,329.8 L371.0,328.4 L372.5,327.1 L374.0,325.8 L375.5,324.5 L377.0,323.2 L378.5,322.0 L380.0,320.7 L381.5,319.5 L383.0,318.3 L384.5,317.2 L386.0,316.0 L387.5,314.9 L389.0,313.8 L390.5,312.7 L392.0,311.6 L393.5,310.6 L395.0,309.6 L396.5,308.6 L398.0,307.6 L399.5,306.7 L401.0,305.8 L402.5,304.9 L404.0,304.0 L405.5,303.2 L407.0,302.4 L408.5,301.6 L410.0,300.8 L411.5,300.1 L413.0,299.4 L414.5,298.7 L416.0,298.1 L417.5,297.4 L419.0,296.9 L420.5,296.3 L422.0,295.8 L423.5,295.3 L425.0,294.8 L426.5,294.4 L428.0,293.9 L429.5,293.6 L431.0,293.2 L432.5,292.9 L433.1,292.8" stroke-width="1.4"/>
<path d="M63.5,590.0 L65.0,589.5 L66.5,589.0 L68.0,588.6 L69.5,588.1 L71.0,587.7 L72.5,587.2 L74.0,586.7 L75.5,586.2 L77.0,585.8 L78.5,585.3 L80.0,584.8 L81.5,584.3 L83.0,583.8 L84.5,583.4 L86.0,582.9 L87.5,582.4 L89.0,581.9 L90.5,581.4 L92.0,580.9 L93.5,580.3 L95.0,579.8 L96.5,579.3 L98.0,578.8 L99.5,578.3 L101.0,577.7 L102.5,577.2 L104.0,576.7 L105.5,576.1 L107.0,575.6 L108.5,575.0 L110.0,574.5 L111.5,573.9 L113.0,573.3 L114.5,572.8 L116.0,572.2 L117.5,571.6 L119.0,571.0 L120.5,570.4 L122.0,569.8 L123.5,569.2 L125.0,568.6 L126.5,568.0 L128.0,567.4 L129.5,566.8 L131.0,566.1 L132.5,565.5 L134.0,564.9 L135.5,564.2 L137.0,563.5 L138.5,562.9 L140.0,562.2 L141.5,561.5 L143.0,560.9 L144.5,560.2 L146.0,559.5 L147.5,558.8 L149.0,558.0 L150.5,557.3 L152.0,556.6 L153.5,555.9 L155.0,555.1 L156.5,554.4 L158.0,553.6 L159.5,552.9 L161.0,552.1 L162.5,551.3 L164.0,550.5 L165.5,549.7 L167.0,548.9 L168.5,548.1 L170.0,547.3 L171.5,546.5 L173.0,545.6 L174.5,544.8 L176.0,543.9 L177.5,543.1 L179.0,542.2 L180.5,541.3 L182.0,540.4 L183.5,539.5 L185.0,538.6 L186.5,537.7 L188.0,536.8 L189.5,535.8 L191.0,534.9 L192.5,533.9 L194.0,532.9 L195.5,532.0 L197.0,531.0 L198.5,530.0 L200.0,529.0 L201.5,527.9 L203.0,526.9 L204.5,525.9 L206.0,524.8 L207.5,523.8 L209.0,522.7 L210.5,521.6 L212.0,520.5 L213.5,519.4 L215.0,518.3 L216.5,517.2 L218.0,516.0 L219.5,514.9 L221.0,513.7 L222.5,512.5 L224.0,511.4 L225.5,510.2 L227.0,508.9 L228.5,507.7 L230.0,506.5 L231.5,505.2 L233.0,504.0 L234.5,502.7 L236.0,501.4 L237.5,500.1 L239.0,498.8 L240.5,497.5 L242.0,496.2 L243.5,494.9 L245.0,493.5 L246.5,492.2 L248.0,490.8 L249.5,489.4 L251.0,488.0 L252.5,486.6 L254.0,485.2 L255.5,483.8 L257.0,482.4 L258.5,480.9 L260.0,479.5 L261.5,478.0 L263.0,476.6 L264.5,475.1 L266.0,473.6 L267.5,472.2 L269.0,470.7 L270.5,469.2 L272.0,467.7 L273.5,466.1 L275.0,464.6 L276.5,463.1 L278.0,461.6 L279.5,460.0 L281.0,458.5 L282.5,456.9 L284.0,455.4 L285.5,453.8 L287.0,452.2 L288.5,450.7 L290.0,449.1 L291.5,447.5 L293.0,445.9 L294.5,444.3 L296.0,442.7 L297.5,441.1 L299.0,439.5 L300.5,437.9 L302.0,436.3 L303.5,434.7 L305.0,433.1 L306.5,431.5 L308.0,429.8 L309.5,428.2 L311.0,426.6 L312.5,425.0 L314.0,423.4 L315.5,421.7 L317.0,420.1 L318.5,418.5 L320.0,416.9 L321.5,415.3 L323.0,413.7 L324.5,412.1 L326.0,410.5 L327.5,408.9 L329.0,407.3 L330.5,405.7 L332.0,404.1 L333.5,402.5 L335.0,400.9 L336.5,399.4 L338.0,397.8 L339.5,396.3 L341.0,394.7 L342.5,393.2 L344.0,391.7 L345.5,390.1 L347.0,388.6 L348.5,387.1 L350.0,385.6 L351.5,384.2 L353.0,382.7 L354.5,381.3 L356.0,379.8 L357.5,378.4 L359.0,377.0 L360.5,375.6 L362.0,374.2 L363.5,372.8 L365.0,371.4 L366.5,370.1 L368.0,368.8 L369.5,367.5 L371.0,366.2 L372.5,364.9 L374.0,363.6 L375.5,362.4 L377.0,361.2 L378.5,360.0 L380.0,358.8 L381.5,357.6 L383.0,356.5 L384.5,355.3 L386.0,354.2 L387.5,353.1 L389.0,352.1 L390.5,351.0 L392.0,350.0 L393.5,349.0 L395.0,348.1 L396.5,347.1 L398.0,346.2 L399.5,345.3 L401.0,344.4 L402.5,343.6 L404.0,342.7 L405.5,341.9 L407.0,341.2 L408.5,340.4 L410.0,339.7 L411.5,339.0 L413.0,338.4 L414.5,337.7 L416.0,337.1 L417.5,336.6 L419.0,336.0 L420.5,335.5 L422.0,335.0 L423.5,334.6 L425.0,334.2 L426.5,333.8 L428.0,333.4 L429.5,333.1 L431.0,332.9 L432.5,332.6 L433.1,332.5" stroke-width="1.4"/>
<path d="M63.5,594.0 L65.0,593.6 L66.5,593.2 L68.0,592.7 L69.5,592.3 L71.0,591.8 L72.5,591.4 L74.0,591.0 L75.5,590.5 L77.0,590.1 L78.5,589.6 L80.0,589.2 L81.5,588.7 L83.0,588.3 L84.5,587.8 L86.0,587.3 L87.5,586.9 L89.0,586.4 L90.5,586.0 L92.0,585.5 L93.5,585.0 L95.0,584.5 L96.5,584.1 L98.0,583.6 L99.5,583.1 L101.0,582.6 L102.5,582.1 L104.0,581.6 L105.5,581.1 L107.0,580.6 L108.5,580.1 L110.0,579.6 L111.5,579.1 L113.0,578.6 L114.5,578.1 L116.0,577.5 L117.5,577.0 L119.0,576.5 L120.5,576.0 L122.0,575.4 L123.5,574.9 L125.0,574.3 L126.5,573.8 L128.0,573.2 L129.5,572.7 L131.0,572.1 L132.5,571.5 L134.0,571.0 L135.5,570.4 L137.0,569.8 L138.5,569.2 L140.0,568.6 L141.5,568.1 L143.0,567.5 L144.5,566.9 L146.0,566.2 L147.5,565.6 L149.0,565.0 L150.5,564.4 L152.0,563.8 L153.5,563.1 L155.0,562.5 L156.5,561.8 L158.0,561.2 L159.5,560.5 L161.0,559.9 L162.5,559.2 L164.0,558.5 L165.5,557.9 L167.0,557.2 L168.5,556.5 L170.0,555.8 L171.5,555.1 L173.0,554.4 L174.5,553.7 L176.0,553.0 L177.5,552.2 L179.0,551.5 L180.5,550.8 L182.0,550.0 L183.5,549.3 L185.0,548.5 L186.5,547.7 L188.0,547.0 L189.5,546.2 L191.0,545.4 L192.5,544.6 L194.0,543.8 L195.5,543.0 L197.0,542.2 L198.5,541.4 L200.0,540.6 L201.5,539.7 L203.0,538.9 L204.5,538.0 L206.0,537.2 L207.5,536.3 L209.0,535.4 L210.5,534.6 L212.0,533.7 L213.5,532.8 L215.0,531.9 L216.5,531.0 L218.0,530.0 L219.5,529.1 L221.0,528.2 L222.5,527.2 L224.0,526.3 L225.5,525.3 L227.0,524.4 L228.5,523.4 L230.0,522.4 L231.5,521.4 L233.0,520.4 L234.5,519.4 L236.0,518.4 L237.5,517.4 L239.0,516.3 L240.5,515.3 L242.0,514.2 L243.5,513.2 L245.0,512.1 L246.5,511.0 L248.0,509.9 L249.5,508.8 L251.0,507.7 L252.5,506.6 L254.0,505.5 L255.5,504.3 L257.0,503.2 L258.5,502.0 L260.0,500.9 L261.5,499.7 L263.0,498.5 L264.5,497.3 L266.0,496.1 L267.5,494.9 L269.0,493.7 L270.5,492.4 L272.0,491.2 L273.5,489.9 L275.0,488.7 L276.5,487.4 L278.0,486.1 L279.5,484.8 L281.0,483.5 L282.5,482.2 L284.0,480.8 L285.5,479.5 L287.0,478.2 L288.5,476.8 L290.0,475.4 L291.5,474.0 L293.0,472.6 L294.5,471.2 L296.0,469.8 L297.5,468.4 L299.0,466.9 L300.5,465.5 L302.0,464.0 L303.5,462.6 L305.0,461.1 L306.5,459.6 L308.0,458.1 L309.5,456.5 L311.0,455.0 L312.5,453.5 L314.0,451.9 L315.5,450.4 L317.0,448.8 L318.5,447.3 L320.0,445.7 L321.5,444.1 L323.0,442.5 L324.5,441.0 L326.0,439.4 L327.5,437.8 L329.0,436.2 L330.5,434.7 L332.0,433.1 L333.5,431.5 L335.0,430.0 L336.5,428.4 L338.0,426.9 L339.5,425.3 L341.0,423.8 L342.5,422.2 L344.0,420.7 L345.5,419.2 L347.0,417.7 L348.5,416.2 L350.0,414.7 L351.5,413.3 L353.0,411.8 L354.5,410.4 L356.0,409.0 L357.5,407.6 L359.0,406.2 L360.5,404.9 L362.0,403.5 L363.5,402.2 L365.0,400.9 L366.5,399.6 L368.0,398.4 L369.5,397.2 L371.0,396.0 L372.5,394.8 L374.0,393.6 L375.5,392.5 L377.0,391.4 L378.5,390.4 L380.0,389.3 L381.5,388.3 L383.0,387.4 L384.5,386.4 L386.0,385.5 L387.5,384.6 L389.0,383.8 L390.5,382.9 L392.0,382.1 L393.5,381.4 L395.0,380.6 L396.5,379.9 L398.0,379.2 L399.5,378.5 L401.0,377.8 L402.5,377.1 L404.0,376.5 L405.5,375.9 L407.0,375.3 L408.5,374.7 L410.0,374.1 L411.5,373.5 L413.0,373.0 L414.5,372.5 L416.0,371.9 L417.5,371.4 L419.0,370.9 L420.5,370.4 L422.0,369.9 L423.5,369.4 L425.0,368.9 L426.5,368.4 L428.0,367.9 L429.5,367.4 L431.0,366.9 L432.5,366.5 L433.1,366.3" stroke-width="2.0"/>
<path d="M63.5,598.0 L65.0,597.4 L66.5,596.8 L68.0,596.2 L69.5,595.7 L71.0,595.1 L72.5,594.6 L74.0,594.0 L75.5,593.5 L77.0,592.9 L78.5,592.4 L80.0,591.9 L81.5,591.3 L83.0,590.8 L84.5,590.3 L86.0,589.8 L87.5,589.3 L89.0,588.7 L90.5,588.2 L92.0,587.7 L93.5,587.2 L95.0,586.7 L96.5,586.2 L98.0,585.7 L99.5,585.2 L101.0,584.7 L102.5,584.2 L104.0,583.8 L105.5,583.3 L107.0,582.8 L108.5,582.3 L110.0,581.8 L111.5,581.3 L113.0,580.9 L114.5,580.4 L116.0,579.9 L117.5,579.4 L119.0,579.0 L120.5,578.5 L122.0,578.0 L123.5,577.5 L125.0,577.0 L126.5,576.6 L128.0,576.1 L129.5,575.6 L131.0,575.1 L132.5,574.7 L134.0,574.2 L135.5,573.7 L137.0,573.2 L138.5,572.7 L140.0,572.2 L141.5,571.8 L143.0,571.3 L144.5,570.8 L146.0,570.3 L147.5,569.8 L149.0,569.3 L150.5,568.8 L152.0,568.3 L153.5,567.8 L155.0,567.3 L156.5,566.8 L158.0,566.3 L159.5,565.8 L161.0,565.3 L162.5,564.7 L164.0,564.2 L165.5,563.7 L167.0,563.1 L168.5,562.6 L170.0,562.1 L171.5,561.5 L173.0,561.0 L174.5,560.4 L176.0,559.9 L177.5,559.3 L179.0,558.8 L180.5,558.2 L182.0,557.6 L183.5,557.0 L185.0,556.4 L186.5,555.8 L188.0,555.3 L189.5,554.6 L191.0,554.0 L192.5,553.4 L194.0,552.8 L195.5,552.2 L197.0,551.5 L198.5,550.9 L200.0,550.3 L201.5,549.6 L203.0,548.9 L204.5,548.3 L206.0,547.6 L207.5,546.9 L209.0,546.2 L210.5,545.5 L212.0,544.8 L213.5,544.1 L215.0,543.4 L216.5,542.7 L218.0,541.9 L219.5,541.2 L221.0,540.4 L222.5,539.7 L224.0,538.9 L225.5,538.1 L227.0,537.3 L228.5,536.6 L230.0,535.7 L231.5,534.9 L233.0,534.1 L234.5,533.3 L236.0,532.4 L237.5,531.6 L239.0,530.7 L240.5,529.8 L242.0,528.9 L243.5,528.1 L245.0,527.1 L246.5,526.2 L248.0,525.3 L249.5,524.4 L251.0,523.4 L252.5,522.5 L254.0,521.5 L255.5,520.5 L257.0,519.5 L258.5,518.5 L260.0,517.5 L261.5,516.5 L263.0,515.4 L264.5,514.4 L266.0,513.3 L267.5,512.2 L269.0,511.1 L270.5,510.0 L272.0,508.9 L273.5,507.8 L275.0,506.6 L276.5,505.5 L278.0,504.3 L279.5,503.1 L281.0,501.9 L282.5,500.7 L284.0,499.5 L285.5,498.2 L287.0,497.0 L288.5,495.7 L290.0,494.4 L291.5,493.2 L293.0,491.9 L294.5,490.6 L296.0,489.3 L297.5,487.9 L299.0,486.6 L300.5,485.3 L302.0,483.9 L303.5,482.6 L305.0,481.2 L306.5,479.9 L308.0,478.5 L309.5,477.1 L311.0,475.7 L312.5,474.4 L314.0,473.0 L315.5,471.6 L317.0,470.2 L318.5,468.8 L320.0,467.4 L321.5,466.0 L323.0,464.6 L324.5,463.2 L326.0,461.8 L327.5,460.4 L329.0,459.0 L330.5,457.6 L332.0,456.3 L333.5,454.9 L335.0,453.5 L336.5,452.1 L338.0,450.7 L339.5,449.4 L341.0,448.0 L342.5,446.6 L344.0,445.3 L345.5,443.9 L347.0,442.6 L348.5,441.2 L350.0,439.9 L351.5,438.6 L353.0,437.3 L354.5,436.0 L356.0,434.7 L357.5,433.4 L359.0,432.2 L360.5,430.9 L362.0,429.7 L363.5,428.4 L365.0,427.2 L366.5,426.0 L368.0,424.8 L369.5,423.6 L371.0,422.5 L372.5,421.3 L374.0,420.2 L375.5,419.1 L377.0,418.0 L378.5,416.9 L380.0,415.8 L381.5,414.8 L383.0,413.7 L384.5,412.7 L386.0,411.7 L387.5,410.7 L389.0,409.8 L390.5,408.9 L392.0,407.9 L393.5,407.1 L395.0,406.2 L396.5,405.3 L398.0,404.5 L399.5,403.7 L401.0,403.0 L402.5,402.2 L404.0,401.5 L405.5,400.8 L407.0,400.1 L408.5,399.5 L410.0,398.8 L411.5,398.3 L413.0,397.7 L414.5,397.2 L416.0,396.6 L417.5,396.2 L419.0,395.7 L420.5,395.3 L422.0,394.9 L423.5,394.6 L425.0,394.2 L426.5,393.9 L428.0,393.7 L429.5,393.5 L431.0,393.3 L432.5,393.1 L433.1,393.1" stroke-width="1.4"/>
<path d="M63.5,601.0 L65.0,600.6 L66.5,600.1 L68.0,599.7 L69.5,599.3 L71.0,598.8 L72.5,598.4 L74.0,598.0 L75.5,597.6 L77.0,597.1 L78.5,596.7 L80.0,596.2 L81.5,595.8 L83.0,595.4 L84.5,594.9 L86.0,594.5 L87.5,594.0 L89.0,593.6 L90.5,593.1 L92.0,592.7 L93.5,592.2 L95.0,591.8 L96.5,591.3 L98.0,590.9 L99.5,590.4 L101.0,589.9 L102.5,589.5 L104.0,589.0 L105.5,588.5 L107.0,588.1 L108.5,587.6 L110.0,587.1 L111.5,586.7 L113.0,586.2 L114.5,585.7 L116.0,585.2 L117.5,584.7 L119.0,584.3 L120.5,583.8 L122.0,583.3 L123.5,582.8 L125.0,582.3 L126.5,581.8 L128.0,581.3 L129.5,580.8 L131.0,580.3 L132.5,579.8 L134.0,579.3 L135.5,578.8 L137.0,578.3 L138.5,577.8 L140.0,577.3 L141.5,576.8 L143.0,576.3 L144.5,575.8 L146.0,575.2 L147.5,574.7 L149.0,574.2 L150.5,573.7 L152.0,573.1 L153.5,572.6 L155.0,572.1 L156.5,571.6 L158.0,571.0 L159.5,570.5 L161.0,569.9 L162.5,569.4 L164.0,568.9 L165.5,568.3 L167.0,567.8 L168.5,567.2 L170.0,566.7 L171.5,566.1 L173.0,565.6 L174.5,565.0 L176.0,564.4 L177.5,563.9 L179.0,563.3 L180.5,562.8 L182.0,562.2 L183.5,561.6 L185.0,561.0 L186.5,560.5 L188.0,559.9 L189.5,559.3 L191.0,558.7 L192.5,558.1 L194.0,557.6 L195.5,557.0 L197.0,556.4 L198.5,555.8 L200.0,555.2 L201.5,554.6 L203.0,554.0 L204.5,553.4 L206.0,552.8 L207.5,552.2 L209.0,551.6 L210.5,551.0 L212.0,550.4 L213.5,549.7 L215.0,549.1 L216.5,548.5 L218.0,547.9 L219.5,547.2 L221.0,546.6 L222.5,546.0 L224.0,545.4 L225.5,544.7 L227.0,544.1 L228.5,543.4 L230.0,542.8 L231.5,542.2 L233.0,541.5 L234.5,540.9 L236.0,540.2 L237.5,539.5 L239.0,538.9 L240.5,538.2 L242.0,537.5 L243.5,536.9 L245.0,536.2 L246.5,535.5 L248.0,534.8 L249.5,534.1 L251.0,533.4 L252.5,532.6 L254.0,531.9 L255.5,531.2 L257.0,530.4 L258.5,529.7 L260.0,528.9 L261.5,528.1 L263.0,527.3 L264.5,526.5 L266.0,525.7 L267.5,524.9 L269.0,524.1 L270.5,523.2 L272.0,522.3 L273.5,521.5 L275.0,520.6 L276.5,519.7 L278.0,518.8 L279.5,517.8 L281.0,516.9 L282.5,515.9 L284.0,514.9 L285.5,513.9 L287.0,512.9 L288.5,511.9 L290.0,510.8 L291.5,509.8 L293.0,508.7 L294.5,507.6 L296.0,506.4 L297.5,505.3 L299.0,504.1 L300.5,502.9 L302.0,501.7 L303.5,500.5 L305.0,499.3 L306.5,498.0 L308.0,496.7 L309.5,495.4 L311.0,494.0 L312.5,492.7 L314.0,491.3 L315.5,489.9 L317.0,488.5 L318.5,487.1 L320.0,485.7 L321.5,484.3 L323.0,482.8 L324.5,481.4 L326.0,479.9 L327.5,478.4 L329.0,477.0 L330.5,475.5 L332.0,474.0 L333.5,472.6 L335.0,471.1 L336.5,469.6 L338.0,468.1 L339.5,466.7 L341.0,465.2 L342.5,463.7 L344.0,462.3 L345.5,460.8 L347.0,459.4 L348.5,458.0 L350.0,456.6 L351.5,455.2 L353.0,453.8 L354.5,452.4 L356.0,451.1 L357.5,449.7 L359.0,448.4 L360.5,447.1 L362.0,445.8 L363.5,444.6 L365.0,443.4 L366.5,442.1 L368.0,440.9 L369.5,439.8 L371.0,438.6 L372.5,437.5 L374.0,436.4 L375.5,435.3 L377.0,434.3 L378.5,433.3 L380.0,432.3 L381.5,431.3 L383.0,430.4 L384.5,429.5 L386.0,428.6 L387.5,427.8 L389.0,426.9 L390.5,426.1 L392.0,425.4 L393.5,424.6 L395.0,423.9 L396.5,423.2 L398.0,422.6 L399.5,421.9 L401.0,421.3 L402.5,420.7 L404.0,420.1 L405.5,419.6 L407.0,419.1 L408.5,418.6 L410.0,418.1 L411.5,417.6 L413.0,417.2 L414.5,416.8 L416.0,416.4 L417.5,416.0 L419.0,415.7 L420.5,415.3 L422.0,415.0 L423.5,414.7 L425.0,414.5 L426.5,414.2 L428.0,414.0 L429.5,413.8 L431.0,413.6 L432.5,413.4 L433.1,413.3" stroke-width="1.4"/>
<path d="M63.5,604.0 L65.0,603.7 L66.5,603.4 L68.0,603.1 L69.5,602.8 L71.0,602.4 L72.5,602.1 L74.0,601.8 L75.5,601.4 L77.0,601.1 L78.5,600.7 L80.0,600.4 L81.5,600.0 L83.0,599.7 L84.5,599.3 L86.0,598.9 L87.5,598.5 L89.0,598.1 L90.5,597.7 L92.0,597.3 L93.5,596.9 L95.0,596.5 L96.5,596.1 L98.0,595.6 L99.5,595.2 L101.0,594.8 L102.5,594.3 L104.0,593.9 L105.5,593.4 L107.0,593.0 L108.5,592.5 L110.0,592.0 L111.5,591.6 L113.0,591.1 L114.5,590.6 L116.0,590.1 L117.5,589.6 L119.0,589.2 L120.5,588.7 L122.0,588.2 L123.5,587.7 L125.0,587.1 L126.5,586.6 L128.0,586.1 L129.5,585.6 L131.0,585.1 L132.5,584.6 L134.0,584.0 L135.5,583.5 L137.0,583.0 L138.5,582.4 L140.0,581.9 L141.5,581.3 L143.0,580.8 L144.5,580.2 L146.0,579.7 L147.5,579.1 L149.0,578.6 L150.5,578.0 L152.0,577.4 L153.5,576.9 L155.0,576.3 L156.5,575.7 L158.0,575.1 L159.5,574.6 L161.0,574.0 L162.5,573.4 L164.0,572.8 L165.5,572.2 L167.0,571.7 L168.5,571.1 L170.0,570.5 L171.5,569.9 L173.0,569.3 L174.5,568.7 L176.0,568.1 L177.5,567.5 L179.0,566.9 L180.5,566.3 L182.0,565.7 L183.5,565.1 L185.0,564.5 L186.5,563.9 L188.0,563.3 L189.5,562.7 L191.0,562.1 L192.5,561.5 L194.0,560.9 L195.5,560.3 L197.0,559.7 L198.5,559.1 L200.0,558.5 L201.5,557.9 L203.0,557.2 L204.5,556.6 L206.0,556.0 L207.5,555.4 L209.0,554.8 L210.5,554.2 L212.0,553.6 L213.5,553.0 L215.0,552.4 L216.5,551.8 L218.0,551.2 L219.5,550.6 L221.0,550.0 L222.5,549.4 L224.0,548.8 L225.5,548.2 L227.0,547.6 L228.5,547.0 L230.0,546.4 L231.5,545.8 L233.0,545.2 L234.5,544.6 L236.0,544.1 L237.5,543.5 L239.0,542.9 L240.5,542.3 L242.0,541.7 L243.5,541.1 L245.0,540.5 L246.5,539.9 L248.0,539.3 L249.5,538.7 L251.0,538.0 L252.5,537.4 L254.0,536.8 L255.5,536.2 L257.0,535.5 L258.5,534.9 L260.0,534.2 L261.5,533.6 L263.0,532.9 L264.5,532.2 L266.0,531.5 L267.5,530.8 L269.0,530.1 L270.5,529.4 L272.0,528.6 L273.5,527.9 L275.0,527.1 L276.5,526.3 L278.0,525.6 L279.5,524.8 L281.0,523.9 L282.5,523.1 L284.0,522.3 L285.5,521.4 L287.0,520.5 L288.5,519.6 L290.0,518.7 L291.5,517.8 L293.0,516.8 L294.5,515.8 L296.0,514.9 L297.5,513.9 L299.0,512.8 L300.5,511.8 L302.0,510.7 L303.5,509.6 L305.0,508.5 L306.5,507.4 L308.0,506.2 L309.5,505.0 L311.0,503.8 L312.5,502.6 L314.0,501.3 L315.5,500.0 L317.0,498.7 L318.5,497.4 L320.0,496.1 L321.5,494.8 L323.0,493.4 L324.5,492.0 L326.0,490.7 L327.5,489.3 L329.0,487.9 L330.5,486.5 L332.0,485.1 L333.5,483.7 L335.0,482.2 L336.5,480.8 L338.0,479.4 L339.5,478.0 L341.0,476.6 L342.5,475.1 L344.0,473.7 L345.5,472.3 L347.0,470.9 L348.5,469.5 L350.0,468.1 L351.5,466.8 L353.0,465.4 L354.5,464.1 L356.0,462.7 L357.5,461.4 L359.0,460.1 L360.5,458.8 L362.0,457.5 L363.5,456.3 L365.0,455.1 L366.5,453.9 L368.0,452.7 L369.5,451.5 L371.0,450.3 L372.5,449.2 L374.0,448.1 L375.5,447.1 L377.0,446.0 L378.5,445.0 L380.0,444.0 L381.5,443.0 L383.0,442.1 L384.5,441.2 L386.0,440.3 L387.5,439.4 L389.0,438.6 L390.5,437.8 L392.0,437.1 L393.5,436.3 L395.0,435.6 L396.5,434.9 L398.0,434.2 L399.5,433.6 L401.0,433.0 L402.5,432.4 L404.0,431.8 L405.5,431.3 L407.0,430.8 L408.5,430.3 L410.0,429.8 L411.5,429.3 L413.0,428.9 L414.5,428.5 L416.0,428.2 L417.5,427.8 L419.0,427.5 L420.5,427.2 L422.0,426.9 L423.5,426.6 L425.0,426.4 L426.5,426.1 L428.0,425.9 L429.5,425.8 L431.0,425.6 L432.5,425.5 L433.1,425.4" stroke-width="2.0"/>
</g>
<g fill="none" stroke="#000" stroke-width="1.7">
<path d="M67.89999999999999,3.5 H63.3 V473.8 H67.89999999999999"/>
<line x1="63.3" y1="23.9" x2="67.89999999999999" y2="23.9"/><line x1="63.3" y1="44.4" x2="67.89999999999999" y2="44.4"/><line x1="63.3" y1="64.8" x2="67.89999999999999" y2="64.8"/><line x1="63.3" y1="85.3" x2="67.89999999999999" y2="85.3"/><line x1="63.3" y1="105.8" x2="67.89999999999999" y2="105.8"/><line x1="63.3" y1="126.2" x2="67.89999999999999" y2="126.2"/><line x1="63.3" y1="146.7" x2="67.89999999999999" y2="146.7"/><line x1="63.3" y1="167.1" x2="67.89999999999999" y2="167.1"/><line x1="63.3" y1="187.5" x2="67.89999999999999" y2="187.5"/><line x1="63.3" y1="208.0" x2="67.89999999999999" y2="208.0"/><line x1="63.3" y1="228.4" x2="67.89999999999999" y2="228.4"/><line x1="63.3" y1="248.9" x2="67.89999999999999" y2="248.9"/><line x1="63.3" y1="269.3" x2="67.89999999999999" y2="269.3"/><line x1="63.3" y1="289.8" x2="67.89999999999999" y2="289.8"/><line x1="63.3" y1="310.2" x2="67.89999999999999" y2="310.2"/><line x1="63.3" y1="330.7" x2="67.89999999999999" y2="330.7"/><line x1="63.3" y1="351.1" x2="67.89999999999999" y2="351.1"/><line x1="63.3" y1="371.6" x2="67.89999999999999" y2="371.6"/><line x1="63.3" y1="392.1" x2="67.89999999999999" y2="392.1"/><line x1="63.3" y1="412.5" x2="67.89999999999999" y2="412.5"/><line x1="63.3" y1="432.9" x2="67.89999999999999" y2="432.9"/><line x1="63.3" y1="453.4" x2="67.89999999999999" y2="453.4"/>
<path d="M67.89999999999999,506.5 H63.3 V624.3 H456.4 V220.0 H451.79999999999995"/>
<line x1="63.3" y1="527.0" x2="67.89999999999999" y2="527.0"/><line x1="63.3" y1="547.5" x2="67.89999999999999" y2="547.5"/><line x1="63.3" y1="568.0" x2="67.89999999999999" y2="568.0"/><line x1="63.3" y1="588.4" x2="67.89999999999999" y2="588.4"/><line x1="63.3" y1="608.9" x2="67.89999999999999" y2="608.9"/>
<line x1="456.4" y1="240.4" x2="451.79999999999995" y2="240.4"/><line x1="456.4" y1="260.9" x2="451.79999999999995" y2="260.9"/><line x1="456.4" y1="281.4" x2="451.79999999999995" y2="281.4"/><line x1="456.4" y1="301.8" x2="451.79999999999995" y2="301.8"/><line x1="456.4" y1="322.3" x2="451.79999999999995" y2="322.3"/><line x1="456.4" y1="342.8" x2="451.79999999999995" y2="342.8"/><line x1="456.4" y1="363.3" x2="451.79999999999995" y2="363.3"/><line x1="456.4" y1="383.7" x2="451.79999999999995" y2="383.7"/><line x1="456.4" y1="404.2" x2="451.79999999999995" y2="404.2"/><line x1="456.4" y1="424.7" x2="451.79999999999995" y2="424.7"/><line x1="456.4" y1="445.1" x2="451.79999999999995" y2="445.1"/><line x1="456.4" y1="465.6" x2="451.79999999999995" y2="465.6"/><line x1="456.4" y1="486.1" x2="451.79999999999995" y2="486.1"/><line x1="456.4" y1="506.5" x2="451.79999999999995" y2="506.5"/><line x1="456.4" y1="527.0" x2="451.79999999999995" y2="527.0"/><line x1="456.4" y1="547.5" x2="451.79999999999995" y2="547.5"/><line x1="456.4" y1="568.0" x2="451.79999999999995" y2="568.0"/><line x1="456.4" y1="588.4" x2="451.79999999999995" y2="588.4"/><line x1="456.4" y1="608.9" x2="451.79999999999995" y2="608.9"/>
<path d="M451.79999999999995,3.5 H456.4 V167.1 H451.79999999999995"/>
<line x1="456.4" y1="23.9" x2="451.79999999999995" y2="23.9"/><line x1="456.4" y1="44.4" x2="451.79999999999995" y2="44.4"/><line x1="456.4" y1="64.8" x2="451.79999999999995" y2="64.8"/><line x1="456.4" y1="85.3" x2="451.79999999999995" y2="85.3"/><line x1="456.4" y1="105.8" x2="451.79999999999995" y2="105.8"/><line x1="456.4" y1="126.2" x2="451.79999999999995" y2="126.2"/><line x1="456.4" y1="146.7" x2="451.79999999999995" y2="146.7"/>
</g>
<g fill="none" stroke="#000" stroke-width="2.4" stroke-linejoin="round">
<polyline points="73.9,426.5 75.9,419.5 80.5,408.0 84.2,396.9 90.7,392.8 105.8,375.3 123.5,360.2 128.7,355.0 134.0,350.3 139.8,343.8 154.0,326.5 160.4,317.3 165.6,313.5 172.3,297.1 177.7,291.9 188.7,278.8 195.4,275.0 200.2,271.2 209.4,268.8 222.7,259.6 230.4,258.3 266.9,226.5 272.3,225.0 286.5,210.3 293.5,207.8 302.8,202.8 336.1,195.5 343.5,194.8 352.5,190.3 372.4,181.9 378.4,180.5 396.1,165.8 406.1,162.0 410.4,155.0"/>
<polyline points="73.5,596.9 78.8,593.8 84.2,585.4 90.4,585.4 105.8,576.9 123.2,579.2 128.1,575.4 133.5,572.3 140.1,567.7 155.0,564.4 161.2,555.8 166.0,556.7 172.7,551.9 178.5,545.2 189.6,540.0 195.4,550.0 200.0,547.7 209.6,548.1 223.1,546.2 230.8,550.4 266.3,508.3 272.1,513.1 284.6,510.2 288.5,508.3 293.3,507.3 301.9,503.1 303.8,514.0 336.3,497.7 343.1,489.0 352.7,489.6 371.9,485.2 378.1,480.0 396.5,467.3 406.9,464.6 410.8,452.5"/>
</g>
<g fill="#575757" stroke="#000" stroke-width="1.6">
<path d="M73.9,420.7 L79.7,426.5 L73.9,432.3 L68.1,426.5 Z"/>
<path d="M75.9,413.7 L81.7,419.5 L75.9,425.3 L70.1,419.5 Z"/>
<path d="M80.5,402.2 L86.3,408.0 L80.5,413.8 L74.7,408.0 Z"/>
<path d="M84.2,391.1 L90.0,396.9 L84.2,402.7 L78.4,396.9 Z"/>
<path d="M90.7,387.0 L96.5,392.8 L90.7,398.6 L84.9,392.8 Z"/>
<path d="M105.8,369.5 L111.6,375.3 L105.8,381.1 L100.0,375.3 Z"/>
<path d="M123.5,354.4 L129.3,360.2 L123.5,366.0 L117.7,360.2 Z"/>
<path d="M128.7,349.2 L134.5,355.0 L128.7,360.8 L122.9,355.0 Z"/>
<path d="M134.0,344.5 L139.8,350.3 L134.0,356.1 L128.2,350.3 Z"/>
<path d="M139.8,338.0 L145.6,343.8 L139.8,349.6 L134.0,343.8 Z"/>
<path d="M154.0,320.7 L159.8,326.5 L154.0,332.3 L148.2,326.5 Z"/>
<path d="M160.4,311.5 L166.2,317.3 L160.4,323.1 L154.6,317.3 Z"/>
<path d="M165.6,307.7 L171.4,313.5 L165.6,319.3 L159.8,313.5 Z"/>
<path d="M172.3,291.3 L178.1,297.1 L172.3,302.9 L166.5,297.1 Z"/>
<path d="M177.7,286.1 L183.5,291.9 L177.7,297.7 L171.9,291.9 Z"/>
<path d="M188.7,273.0 L194.5,278.8 L188.7,284.6 L182.9,278.8 Z"/>
<path d="M195.4,269.2 L201.2,275.0 L195.4,280.8 L189.6,275.0 Z"/>
<path d="M200.2,265.4 L206.0,271.2 L200.2,277.0 L194.4,271.2 Z"/>
<path d="M209.4,263.0 L215.2,268.8 L209.4,274.6 L203.6,268.8 Z"/>
<path d="M222.7,253.8 L228.5,259.6 L222.7,265.4 L216.9,259.6 Z"/>
<path d="M230.4,252.5 L236.2,258.3 L230.4,264.1 L224.6,258.3 Z"/>
<path d="M266.9,220.7 L272.7,226.5 L266.9,232.3 L261.1,226.5 Z"/>
<path d="M272.3,219.2 L278.1,225.0 L272.3,230.8 L266.5,225.0 Z"/>
<path d="M286.5,204.5 L292.3,210.3 L286.5,216.1 L280.7,210.3 Z"/>
<path d="M293.5,202.0 L299.3,207.8 L293.5,213.6 L287.7,207.8 Z"/>
<path d="M302.8,197.0 L308.6,202.8 L302.8,208.6 L297.0,202.8 Z"/>
<path d="M336.1,189.7 L341.9,195.5 L336.1,201.3 L330.3,195.5 Z"/>
<path d="M343.5,189.0 L349.3,194.8 L343.5,200.6 L337.7,194.8 Z"/>
<path d="M352.5,184.5 L358.3,190.3 L352.5,196.1 L346.7,190.3 Z"/>
<path d="M372.4,176.1 L378.2,181.9 L372.4,187.7 L366.6,181.9 Z"/>
<path d="M378.4,174.7 L384.2,180.5 L378.4,186.3 L372.6,180.5 Z"/>
<path d="M396.1,160.0 L401.9,165.8 L396.1,171.6 L390.3,165.8 Z"/>
<path d="M406.1,156.2 L411.9,162.0 L406.1,167.8 L400.3,162.0 Z"/>
<path d="M410.4,149.2 L416.2,155.0 L410.4,160.8 L404.6,155.0 Z"/>
<path d="M73.5,591.1 L79.3,596.9 L73.5,602.7 L67.7,596.9 Z"/>
<path d="M78.8,588.0 L84.6,593.8 L78.8,599.6 L73.0,593.8 Z"/>
<path d="M84.2,579.6 L90.0,585.4 L84.2,591.2 L78.4,585.4 Z"/>
<path d="M90.4,579.6 L96.2,585.4 L90.4,591.2 L84.6,585.4 Z"/>
<path d="M105.8,571.1 L111.6,576.9 L105.8,582.7 L100.0,576.9 Z"/>
<path d="M123.2,573.4 L129.0,579.2 L123.2,585.0 L117.4,579.2 Z"/>
<path d="M128.1,569.6 L133.9,575.4 L128.1,581.2 L122.3,575.4 Z"/>
<path d="M133.5,566.5 L139.3,572.3 L133.5,578.1 L127.7,572.3 Z"/>
<path d="M140.1,561.9 L145.9,567.7 L140.1,573.5 L134.3,567.7 Z"/>
<path d="M155.0,558.6 L160.8,564.4 L155.0,570.2 L149.2,564.4 Z"/>
<path d="M161.2,550.0 L167.0,555.8 L161.2,561.6 L155.4,555.8 Z"/>
<path d="M166.0,550.9 L171.8,556.7 L166.0,562.5 L160.2,556.7 Z"/>
<path d="M172.7,546.1 L178.5,551.9 L172.7,557.7 L166.9,551.9 Z"/>
<path d="M178.5,539.4 L184.3,545.2 L178.5,551.0 L172.7,545.2 Z"/>
<path d="M189.6,534.2 L195.4,540.0 L189.6,545.8 L183.8,540.0 Z"/>
<path d="M195.4,544.2 L201.2,550.0 L195.4,555.8 L189.6,550.0 Z"/>
<path d="M200.0,541.9 L205.8,547.7 L200.0,553.5 L194.2,547.7 Z"/>
<path d="M209.6,542.3 L215.4,548.1 L209.6,553.9 L203.8,548.1 Z"/>
<path d="M223.1,540.4 L228.9,546.2 L223.1,552.0 L217.3,546.2 Z"/>
<path d="M230.8,544.6 L236.6,550.4 L230.8,556.2 L225.0,550.4 Z"/>
<path d="M266.3,502.5 L272.1,508.3 L266.3,514.1 L260.5,508.3 Z"/>
<path d="M272.1,507.3 L277.9,513.1 L272.1,518.9 L266.3,513.1 Z"/>
<path d="M284.6,504.4 L290.4,510.2 L284.6,516.0 L278.8,510.2 Z"/>
<path d="M288.5,502.5 L294.3,508.3 L288.5,514.1 L282.7,508.3 Z"/>
<path d="M293.3,501.5 L299.1,507.3 L293.3,513.1 L287.5,507.3 Z"/>
<path d="M301.9,497.3 L307.7,503.1 L301.9,508.9 L296.1,503.1 Z"/>
<path d="M303.8,508.2 L309.6,514.0 L303.8,519.8 L298.0,514.0 Z"/>
<path d="M336.3,491.9 L342.1,497.7 L336.3,503.5 L330.5,497.7 Z"/>
<path d="M343.1,483.2 L348.9,489.0 L343.1,494.8 L337.3,489.0 Z"/>
<path d="M352.7,483.8 L358.5,489.6 L352.7,495.4 L346.9,489.6 Z"/>
<path d="M371.9,479.4 L377.7,485.2 L371.9,491.0 L366.1,485.2 Z"/>
<path d="M378.1,474.2 L383.9,480.0 L378.1,485.8 L372.3,480.0 Z"/>
<path d="M396.5,461.5 L402.3,467.3 L396.5,473.1 L390.7,467.3 Z"/>
<path d="M406.9,458.8 L412.7,464.6 L406.9,470.4 L401.1,464.6 Z"/>
<path d="M410.8,446.7 L416.6,452.5 L410.8,458.3 L405.0,452.5 Z"/>
</g>
<g font-family="Liberation Sans" font-weight="bold" font-size="12.3" fill="#111">
<text x="50" y="9.0" text-anchor="end">190</text><text x="50" y="28.1" text-anchor="end">185</text><text x="50" y="48.6" text-anchor="end">180</text><text x="50" y="69.0" text-anchor="end">175</text><text x="50" y="89.5" text-anchor="end">170</text><text x="50" y="110.0" text-anchor="end">165</text><text x="50" y="130.4" text-anchor="end">160</text><text x="50" y="150.8" text-anchor="end">155</text><text x="50" y="171.3" text-anchor="end">150</text><text x="50" y="191.7" text-anchor="end">145</text><text x="50" y="212.2" text-anchor="end">140</text><text x="50" y="232.6" text-anchor="end">135</text><text x="50" y="253.1" text-anchor="end">130</text><text x="50" y="273.5" text-anchor="end">125</text><text x="50" y="294.0" text-anchor="end">120</text><text x="50" y="314.4" text-anchor="end">115</text><text x="50" y="334.9" text-anchor="end">110</text><text x="50" y="355.3" text-anchor="end">105</text><text x="50" y="375.8" text-anchor="end">100</text><text x="50" y="396.2" text-anchor="end">95</text><text x="50" y="416.7" text-anchor="end">90</text><text x="50" y="437.1" text-anchor="end">85</text><text x="50" y="457.6" text-anchor="end">80</text><text x="50" y="478.0" text-anchor="end">75</text><text x="50" y="510.7" text-anchor="end">35</text><text x="50" y="531.2" text-anchor="end">30</text><text x="50" y="551.7" text-anchor="end">25</text><text x="50" y="572.2" text-anchor="end">20</text><text x="50" y="592.6" text-anchor="end">15</text><text x="50" y="613.1" text-anchor="end">10</text><text x="468.5" y="9.2">190</text><text x="468.5" y="28.1">185</text><text x="468.5" y="48.6">180</text><text x="468.5" y="69.0">175</text><text x="468.5" y="89.5">170</text><text x="468.5" y="110.0">165</text><text x="468.5" y="130.4">160</text><text x="468.5" y="150.8">155</text><text x="468.5" y="171.3">150</text><text x="468.5" y="224.8">105</text><text x="468.5" y="245.2">100</text><text x="468.5" y="265.7">95</text><text x="468.5" y="286.2">90</text><text x="468.5" y="306.6">85</text><text x="468.5" y="327.1">80</text><text x="468.5" y="347.6">75</text><text x="468.5" y="368.1">70</text><text x="468.5" y="388.5">65</text><text x="468.5" y="409.0">60</text><text x="468.5" y="429.5">55</text><text x="468.5" y="449.9">50</text><text x="468.5" y="470.4">45</text><text x="468.5" y="490.9">40</text><text x="468.5" y="511.3">35</text><text x="468.5" y="531.8">30</text><text x="468.5" y="552.3">25</text><text x="468.5" y="572.8">20</text><text x="468.5" y="593.2">15</text><text x="468.5" y="613.7">10</text><text x="62.7" y="646.5" text-anchor="middle">2</text><text x="84.5" y="646.5" text-anchor="middle">3</text><text x="106.4" y="646.5" text-anchor="middle">4</text><text x="128.2" y="646.5" text-anchor="middle">5</text><text x="150.1" y="646.5" text-anchor="middle">6</text><text x="171.9" y="646.5" text-anchor="middle">7</text><text x="193.7" y="646.5" text-anchor="middle">8</text><text x="215.6" y="646.5" text-anchor="middle">9</text><text x="237.4" y="646.5" text-anchor="middle">10</text><text x="259.3" y="646.5" text-anchor="middle">11</text><text x="281.1" y="646.5" text-anchor="middle">12</text><text x="302.9" y="646.5" text-anchor="middle">13</text><text x="324.8" y="646.5" text-anchor="middle">14</text><text x="346.6" y="646.5" text-anchor="middle">15</text><text x="368.5" y="646.5" text-anchor="middle">16</text><text x="390.3" y="646.5" text-anchor="middle">17</text><text x="412.1" y="646.5" text-anchor="middle">18</text><text x="434.0" y="646.5" text-anchor="middle">19</text><text x="455.8" y="646.5" text-anchor="middle">20</text>
</g>
<g font-family="Liberation Sans" font-size="10.2" fill="#111" stroke="#111" stroke-width="0.35">
<text x="446" y="13.8" text-anchor="end">95</text>
<text x="446" y="25.6" text-anchor="end">90</text>
<text x="446" y="42.9" text-anchor="end">75</text>
<text x="446" y="60.0" text-anchor="end">50</text>
<text x="446" y="80.5" text-anchor="end">25</text>
<text x="446" y="98.4" text-anchor="end">10</text>
<text x="446" y="109.7" text-anchor="end">5</text>
<line x1="448.5" y1="8.8" x2="455.5" y2="8.8" stroke="#222" stroke-width="1.6"/>
<line x1="448.5" y1="19.9" x2="455.5" y2="19.9" stroke="#222" stroke-width="1.6"/>
<line x1="448.5" y1="38.2" x2="455.5" y2="38.2" stroke="#222" stroke-width="1.6"/>
<line x1="448.5" y1="55.5" x2="455.5" y2="55.5" stroke="#222" stroke-width="1.6"/>
<line x1="448.5" y1="76.1" x2="455.5" y2="76.1" stroke="#222" stroke-width="1.6"/>
<line x1="448.5" y1="94.6" x2="455.5" y2="94.6" stroke="#222" stroke-width="1.6"/>
<line x1="448.5" y1="105" x2="455.5" y2="105" stroke="#222" stroke-width="1.6"/>
<text x="446" y="265.2" text-anchor="end">95</text>
<text x="446" y="293.7" text-anchor="end">90</text>
<text x="446" y="333.3" text-anchor="end">75</text>
<text x="446" y="368.0" text-anchor="end">50</text>
<text x="446" y="394.5" text-anchor="end">25</text>
<text x="446" y="416.1" text-anchor="end">10</text>
<text x="446" y="428.9" text-anchor="end">5</text>
<line x1="448.2" y1="259.4" x2="455.7" y2="256.4" stroke="#222" stroke-width="1.6"/>
<line x1="447.8" y1="288.2" x2="455.9" y2="285.9" stroke="#222" stroke-width="1.6"/>
<line x1="447.8" y1="328.3" x2="455.9" y2="325.9" stroke="#222" stroke-width="1.6"/>
<line x1="447.8" y1="361.8" x2="455.9" y2="359.7" stroke="#222" stroke-width="1.6"/>
<line x1="447.8" y1="389.3" x2="455.9" y2="387.6" stroke="#222" stroke-width="1.6"/>
<line x1="447.8" y1="409.5" x2="455.9" y2="408.3" stroke="#222" stroke-width="1.6"/>
<line x1="447.8" y1="421.3" x2="455.9" y2="422" stroke="#222" stroke-width="1.6"/>
</g>
<g font-family="Liberation Sans" font-size="12.5" fill="#111" stroke="#111" stroke-width="0.5">
<text x="10.7" y="186.3" text-anchor="middle">S</text>
<text x="10.7" y="198.6" text-anchor="middle">t</text>
<text x="10.7" y="210.9" text-anchor="middle">a</text>
<text x="10.7" y="223.2" text-anchor="middle">t</text>
<text x="10.7" y="235.5" text-anchor="middle">u</text>
<text x="10.7" y="247.8" text-anchor="middle">r</text>
<text x="10.7" y="260.1" text-anchor="middle">e</text>
<text x="10.7" y="274.9" text-anchor="middle">(cm)</text>
<text x="13.3" y="527.3" text-anchor="middle">W</text>
<text x="13.3" y="539.3" text-anchor="middle">e</text>
<text x="13.3" y="551.3" text-anchor="middle">i</text>
<text x="13.3" y="563.3" text-anchor="middle">g</text>
<text x="13.3" y="575.3" text-anchor="middle">h</text>
<text x="13.3" y="587.3" text-anchor="middle">t</text>
<text x="13.3" y="602.3" text-anchor="middle">(kg)</text>
<text x="507.3" y="48.8" text-anchor="middle">S</text>
<text x="507.3" y="61.2" text-anchor="middle">t</text>
<text x="507.3" y="73.6" text-anchor="middle">a</text>
<text x="507.3" y="86.0" text-anchor="middle">t</text>
<text x="507.3" y="98.4" text-anchor="middle">u</text>
<text x="507.3" y="110.8" text-anchor="middle">r</text>
<text x="507.3" y="123.2" text-anchor="middle">e</text>
<text x="507.3" y="138.1" text-anchor="middle">(cm)</text>
<text x="507.3" y="359.3" text-anchor="middle">W</text>
<text x="507.3" y="371.7" text-anchor="middle">e</text>
<text x="507.3" y="384.1" text-anchor="middle">i</text>
<text x="507.3" y="396.5" text-anchor="middle">g</text>
<text x="507.3" y="408.9" text-anchor="middle">h</text>
<text x="507.3" y="421.3" text-anchor="middle">t</text>
<text x="507.3" y="436.3" text-anchor="middle">(kg)</text>
<text x="260.6" y="664.6" text-anchor="middle" font-size="12">Age (Years)</text>
</g>
<g font-family="Liberation Serif" font-size="11.9" fill="#333" stroke="#333" stroke-width="0.2">
<text x="79.4" y="17.1" textLength="86.9" lengthAdjust="spacingAndGlyphs">2 to 20 years: Boys</text>
<text x="79.4" y="32.5" textLength="226.6" lengthAdjust="spacingAndGlyphs" xml:space="preserve">Stature -for-age and  Weight-for-age percentiles</text>
</g>
<g>
<clipPath id="cb"><rect x="367.4" y="565.4" width="42.8" height="25.9"/></clipPath>
<rect x="367.4" y="565.4" width="42.8" height="25.9" fill="#3e3e3e"/>
<g clip-path="url(#cb)" stroke="#cfcfcf" stroke-width="1">
<line x1="366" y1="600" x2="440.2" y2="570.0"/><line x1="366" y1="600" x2="436.6" y2="562.4"/><line x1="366" y1="600" x2="432.3" y2="555.3"/><line x1="366" y1="600" x2="427.3" y2="548.6"/><line x1="366" y1="600" x2="421.6" y2="542.5"/><line x1="366" y1="600" x2="415.3" y2="537.0"/><line x1="366" y1="600" x2="408.4" y2="532.2"/><line x1="366" y1="600" x2="401.1" y2="528.1"/><line x1="366" y1="600" x2="393.4" y2="524.8"/><line x1="366" y1="600" x2="385.4" y2="522.4"/><line x1="366" y1="600" x2="377.1" y2="520.8"/><line x1="366" y1="600" x2="368.8" y2="520.0"/><line x1="366" y1="600" x2="360.4" y2="520.2"/>
</g>
<text x="389.2" y="584.3" text-anchor="middle" font-family="Liberation Serif" font-weight="bold" font-size="22" fill="#fff" stroke="#fff" stroke-width="0.5" textLength="36" lengthAdjust="spacingAndGlyphs">CDC</text>
<text x="303.8" y="600.6" font-family="Liberation Sans" font-weight="bold" font-size="6.2" fill="#3a3a3a" textLength="108" lengthAdjust="spacingAndGlyphs">SAFER • HEALTHIER • PEOPLE™</text>
</g>
</svg>
</body></html>
